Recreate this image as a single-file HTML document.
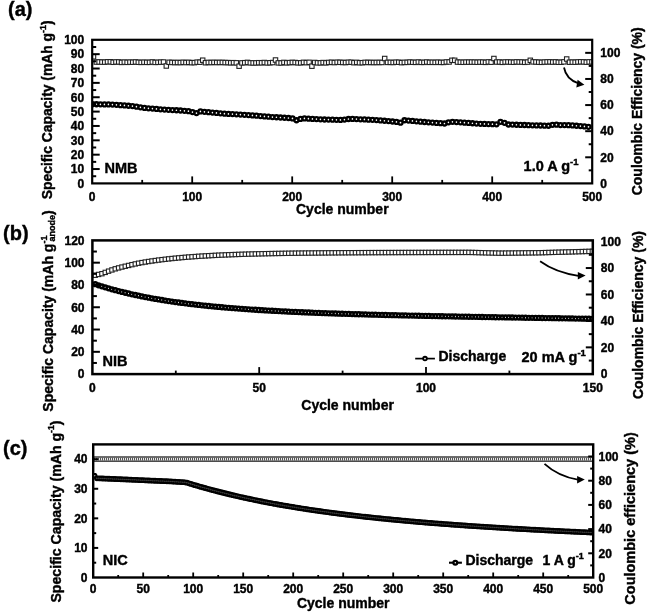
<!DOCTYPE html>
<html><head><meta charset="utf-8"><style>
html,body{margin:0;padding:0;background:#fff;}
svg{display:block;will-change:transform;filter:blur(0.35px);}
text{stroke:#000;stroke-width:0.4px;}
</style></head><body>
<svg width="649" height="615" viewBox="0 0 649 615" font-family='"Liberation Sans", sans-serif' font-weight="bold">
<rect width="649" height="615" fill="#fff"/>
<clipPath id="ca"><rect x="92.20" y="39.80" width="500.00" height="143.60"/></clipPath>
<g clip-path="url(#ca)">
<rect x="91.30" y="54.60" width="4.4" height="4.4" fill="#fff" stroke="#222" stroke-width="1.1"/>
<rect x="94.10" y="59.84" width="4.4" height="4.4" fill="#fff" stroke="#222" stroke-width="1.1"/>
<rect x="96.90" y="59.75" width="4.4" height="4.4" fill="#fff" stroke="#222" stroke-width="1.1"/>
<rect x="99.70" y="59.90" width="4.4" height="4.4" fill="#fff" stroke="#222" stroke-width="1.1"/>
<rect x="102.50" y="59.92" width="4.4" height="4.4" fill="#fff" stroke="#222" stroke-width="1.1"/>
<rect x="105.30" y="59.60" width="4.4" height="4.4" fill="#fff" stroke="#222" stroke-width="1.1"/>
<rect x="108.10" y="59.58" width="4.4" height="4.4" fill="#fff" stroke="#222" stroke-width="1.1"/>
<rect x="110.90" y="60.08" width="4.4" height="4.4" fill="#fff" stroke="#222" stroke-width="1.1"/>
<rect x="113.70" y="59.75" width="4.4" height="4.4" fill="#fff" stroke="#222" stroke-width="1.1"/>
<rect x="116.50" y="59.74" width="4.4" height="4.4" fill="#fff" stroke="#222" stroke-width="1.1"/>
<rect x="119.30" y="60.21" width="4.4" height="4.4" fill="#fff" stroke="#222" stroke-width="1.1"/>
<rect x="122.10" y="59.91" width="4.4" height="4.4" fill="#fff" stroke="#222" stroke-width="1.1"/>
<rect x="124.90" y="60.14" width="4.4" height="4.4" fill="#fff" stroke="#222" stroke-width="1.1"/>
<rect x="127.70" y="59.93" width="4.4" height="4.4" fill="#fff" stroke="#222" stroke-width="1.1"/>
<rect x="130.50" y="60.04" width="4.4" height="4.4" fill="#fff" stroke="#222" stroke-width="1.1"/>
<rect x="133.30" y="59.76" width="4.4" height="4.4" fill="#fff" stroke="#222" stroke-width="1.1"/>
<rect x="136.10" y="60.06" width="4.4" height="4.4" fill="#fff" stroke="#222" stroke-width="1.1"/>
<rect x="138.90" y="60.21" width="4.4" height="4.4" fill="#fff" stroke="#222" stroke-width="1.1"/>
<rect x="141.70" y="60.02" width="4.4" height="4.4" fill="#fff" stroke="#222" stroke-width="1.1"/>
<rect x="144.50" y="60.16" width="4.4" height="4.4" fill="#fff" stroke="#222" stroke-width="1.1"/>
<rect x="147.30" y="60.13" width="4.4" height="4.4" fill="#fff" stroke="#222" stroke-width="1.1"/>
<rect x="150.10" y="59.77" width="4.4" height="4.4" fill="#fff" stroke="#222" stroke-width="1.1"/>
<rect x="152.90" y="60.20" width="4.4" height="4.4" fill="#fff" stroke="#222" stroke-width="1.1"/>
<rect x="155.70" y="60.11" width="4.4" height="4.4" fill="#fff" stroke="#222" stroke-width="1.1"/>
<rect x="158.50" y="59.95" width="4.4" height="4.4" fill="#fff" stroke="#222" stroke-width="1.1"/>
<rect x="161.30" y="59.80" width="4.4" height="4.4" fill="#fff" stroke="#222" stroke-width="1.1"/>
<rect x="164.10" y="63.80" width="4.4" height="4.4" fill="#fff" stroke="#222" stroke-width="1.1"/>
<rect x="166.90" y="60.08" width="4.4" height="4.4" fill="#fff" stroke="#222" stroke-width="1.1"/>
<rect x="169.70" y="60.24" width="4.4" height="4.4" fill="#fff" stroke="#222" stroke-width="1.1"/>
<rect x="172.50" y="60.35" width="4.4" height="4.4" fill="#fff" stroke="#222" stroke-width="1.1"/>
<rect x="175.30" y="60.26" width="4.4" height="4.4" fill="#fff" stroke="#222" stroke-width="1.1"/>
<rect x="178.10" y="60.40" width="4.4" height="4.4" fill="#fff" stroke="#222" stroke-width="1.1"/>
<rect x="180.90" y="60.09" width="4.4" height="4.4" fill="#fff" stroke="#222" stroke-width="1.1"/>
<rect x="183.70" y="60.35" width="4.4" height="4.4" fill="#fff" stroke="#222" stroke-width="1.1"/>
<rect x="186.50" y="60.15" width="4.4" height="4.4" fill="#fff" stroke="#222" stroke-width="1.1"/>
<rect x="189.30" y="60.45" width="4.4" height="4.4" fill="#fff" stroke="#222" stroke-width="1.1"/>
<rect x="192.10" y="60.43" width="4.4" height="4.4" fill="#fff" stroke="#222" stroke-width="1.1"/>
<rect x="194.90" y="59.97" width="4.4" height="4.4" fill="#fff" stroke="#222" stroke-width="1.1"/>
<rect x="197.70" y="60.00" width="4.4" height="4.4" fill="#fff" stroke="#222" stroke-width="1.1"/>
<rect x="200.50" y="58.00" width="4.4" height="4.4" fill="#fff" stroke="#222" stroke-width="1.1"/>
<rect x="203.30" y="60.52" width="4.4" height="4.4" fill="#fff" stroke="#222" stroke-width="1.1"/>
<rect x="206.10" y="60.22" width="4.4" height="4.4" fill="#fff" stroke="#222" stroke-width="1.1"/>
<rect x="208.90" y="60.34" width="4.4" height="4.4" fill="#fff" stroke="#222" stroke-width="1.1"/>
<rect x="211.70" y="60.16" width="4.4" height="4.4" fill="#fff" stroke="#222" stroke-width="1.1"/>
<rect x="214.50" y="60.29" width="4.4" height="4.4" fill="#fff" stroke="#222" stroke-width="1.1"/>
<rect x="217.30" y="60.23" width="4.4" height="4.4" fill="#fff" stroke="#222" stroke-width="1.1"/>
<rect x="220.10" y="60.22" width="4.4" height="4.4" fill="#fff" stroke="#222" stroke-width="1.1"/>
<rect x="222.90" y="60.37" width="4.4" height="4.4" fill="#fff" stroke="#222" stroke-width="1.1"/>
<rect x="225.70" y="60.38" width="4.4" height="4.4" fill="#fff" stroke="#222" stroke-width="1.1"/>
<rect x="228.50" y="60.59" width="4.4" height="4.4" fill="#fff" stroke="#222" stroke-width="1.1"/>
<rect x="231.30" y="60.46" width="4.4" height="4.4" fill="#fff" stroke="#222" stroke-width="1.1"/>
<rect x="234.10" y="60.62" width="4.4" height="4.4" fill="#fff" stroke="#222" stroke-width="1.1"/>
<rect x="236.90" y="64.00" width="4.4" height="4.4" fill="#fff" stroke="#222" stroke-width="1.1"/>
<rect x="239.70" y="60.68" width="4.4" height="4.4" fill="#fff" stroke="#222" stroke-width="1.1"/>
<rect x="242.50" y="60.50" width="4.4" height="4.4" fill="#fff" stroke="#222" stroke-width="1.1"/>
<rect x="245.30" y="60.21" width="4.4" height="4.4" fill="#fff" stroke="#222" stroke-width="1.1"/>
<rect x="248.10" y="60.64" width="4.4" height="4.4" fill="#fff" stroke="#222" stroke-width="1.1"/>
<rect x="250.90" y="60.71" width="4.4" height="4.4" fill="#fff" stroke="#222" stroke-width="1.1"/>
<rect x="253.70" y="60.69" width="4.4" height="4.4" fill="#fff" stroke="#222" stroke-width="1.1"/>
<rect x="256.50" y="60.50" width="4.4" height="4.4" fill="#fff" stroke="#222" stroke-width="1.1"/>
<rect x="259.30" y="60.59" width="4.4" height="4.4" fill="#fff" stroke="#222" stroke-width="1.1"/>
<rect x="262.10" y="60.30" width="4.4" height="4.4" fill="#fff" stroke="#222" stroke-width="1.1"/>
<rect x="264.90" y="60.69" width="4.4" height="4.4" fill="#fff" stroke="#222" stroke-width="1.1"/>
<rect x="267.70" y="60.54" width="4.4" height="4.4" fill="#fff" stroke="#222" stroke-width="1.1"/>
<rect x="270.50" y="60.36" width="4.4" height="4.4" fill="#fff" stroke="#222" stroke-width="1.1"/>
<rect x="273.30" y="57.80" width="4.4" height="4.4" fill="#fff" stroke="#222" stroke-width="1.1"/>
<rect x="276.10" y="60.69" width="4.4" height="4.4" fill="#fff" stroke="#222" stroke-width="1.1"/>
<rect x="278.90" y="60.76" width="4.4" height="4.4" fill="#fff" stroke="#222" stroke-width="1.1"/>
<rect x="281.70" y="60.22" width="4.4" height="4.4" fill="#fff" stroke="#222" stroke-width="1.1"/>
<rect x="284.50" y="60.64" width="4.4" height="4.4" fill="#fff" stroke="#222" stroke-width="1.1"/>
<rect x="287.30" y="60.39" width="4.4" height="4.4" fill="#fff" stroke="#222" stroke-width="1.1"/>
<rect x="290.10" y="60.23" width="4.4" height="4.4" fill="#fff" stroke="#222" stroke-width="1.1"/>
<rect x="292.90" y="60.31" width="4.4" height="4.4" fill="#fff" stroke="#222" stroke-width="1.1"/>
<rect x="295.70" y="60.59" width="4.4" height="4.4" fill="#fff" stroke="#222" stroke-width="1.1"/>
<rect x="298.50" y="60.64" width="4.4" height="4.4" fill="#fff" stroke="#222" stroke-width="1.1"/>
<rect x="301.30" y="60.14" width="4.4" height="4.4" fill="#fff" stroke="#222" stroke-width="1.1"/>
<rect x="304.10" y="60.47" width="4.4" height="4.4" fill="#fff" stroke="#222" stroke-width="1.1"/>
<rect x="306.90" y="60.12" width="4.4" height="4.4" fill="#fff" stroke="#222" stroke-width="1.1"/>
<rect x="309.70" y="64.00" width="4.4" height="4.4" fill="#fff" stroke="#222" stroke-width="1.1"/>
<rect x="312.50" y="60.28" width="4.4" height="4.4" fill="#fff" stroke="#222" stroke-width="1.1"/>
<rect x="315.30" y="60.60" width="4.4" height="4.4" fill="#fff" stroke="#222" stroke-width="1.1"/>
<rect x="318.10" y="60.65" width="4.4" height="4.4" fill="#fff" stroke="#222" stroke-width="1.1"/>
<rect x="320.90" y="60.36" width="4.4" height="4.4" fill="#fff" stroke="#222" stroke-width="1.1"/>
<rect x="323.70" y="60.65" width="4.4" height="4.4" fill="#fff" stroke="#222" stroke-width="1.1"/>
<rect x="326.50" y="60.23" width="4.4" height="4.4" fill="#fff" stroke="#222" stroke-width="1.1"/>
<rect x="329.30" y="60.08" width="4.4" height="4.4" fill="#fff" stroke="#222" stroke-width="1.1"/>
<rect x="332.10" y="60.39" width="4.4" height="4.4" fill="#fff" stroke="#222" stroke-width="1.1"/>
<rect x="334.90" y="60.04" width="4.4" height="4.4" fill="#fff" stroke="#222" stroke-width="1.1"/>
<rect x="337.70" y="60.13" width="4.4" height="4.4" fill="#fff" stroke="#222" stroke-width="1.1"/>
<rect x="340.50" y="60.25" width="4.4" height="4.4" fill="#fff" stroke="#222" stroke-width="1.1"/>
<rect x="343.30" y="60.36" width="4.4" height="4.4" fill="#fff" stroke="#222" stroke-width="1.1"/>
<rect x="346.10" y="60.08" width="4.4" height="4.4" fill="#fff" stroke="#222" stroke-width="1.1"/>
<rect x="348.90" y="60.01" width="4.4" height="4.4" fill="#fff" stroke="#222" stroke-width="1.1"/>
<rect x="351.70" y="60.50" width="4.4" height="4.4" fill="#fff" stroke="#222" stroke-width="1.1"/>
<rect x="354.50" y="60.16" width="4.4" height="4.4" fill="#fff" stroke="#222" stroke-width="1.1"/>
<rect x="357.30" y="60.54" width="4.4" height="4.4" fill="#fff" stroke="#222" stroke-width="1.1"/>
<rect x="360.10" y="60.49" width="4.4" height="4.4" fill="#fff" stroke="#222" stroke-width="1.1"/>
<rect x="362.90" y="60.17" width="4.4" height="4.4" fill="#fff" stroke="#222" stroke-width="1.1"/>
<rect x="365.70" y="60.22" width="4.4" height="4.4" fill="#fff" stroke="#222" stroke-width="1.1"/>
<rect x="368.50" y="60.24" width="4.4" height="4.4" fill="#fff" stroke="#222" stroke-width="1.1"/>
<rect x="371.30" y="60.31" width="4.4" height="4.4" fill="#fff" stroke="#222" stroke-width="1.1"/>
<rect x="374.10" y="60.27" width="4.4" height="4.4" fill="#fff" stroke="#222" stroke-width="1.1"/>
<rect x="376.90" y="60.24" width="4.4" height="4.4" fill="#fff" stroke="#222" stroke-width="1.1"/>
<rect x="379.70" y="60.27" width="4.4" height="4.4" fill="#fff" stroke="#222" stroke-width="1.1"/>
<rect x="382.50" y="56.30" width="4.4" height="4.4" fill="#fff" stroke="#222" stroke-width="1.1"/>
<rect x="385.30" y="60.19" width="4.4" height="4.4" fill="#fff" stroke="#222" stroke-width="1.1"/>
<rect x="388.10" y="60.14" width="4.4" height="4.4" fill="#fff" stroke="#222" stroke-width="1.1"/>
<rect x="390.90" y="60.30" width="4.4" height="4.4" fill="#fff" stroke="#222" stroke-width="1.1"/>
<rect x="393.70" y="60.01" width="4.4" height="4.4" fill="#fff" stroke="#222" stroke-width="1.1"/>
<rect x="396.50" y="60.04" width="4.4" height="4.4" fill="#fff" stroke="#222" stroke-width="1.1"/>
<rect x="399.30" y="60.44" width="4.4" height="4.4" fill="#fff" stroke="#222" stroke-width="1.1"/>
<rect x="402.10" y="60.15" width="4.4" height="4.4" fill="#fff" stroke="#222" stroke-width="1.1"/>
<rect x="404.90" y="60.16" width="4.4" height="4.4" fill="#fff" stroke="#222" stroke-width="1.1"/>
<rect x="407.70" y="59.83" width="4.4" height="4.4" fill="#fff" stroke="#222" stroke-width="1.1"/>
<rect x="410.50" y="60.07" width="4.4" height="4.4" fill="#fff" stroke="#222" stroke-width="1.1"/>
<rect x="413.30" y="60.16" width="4.4" height="4.4" fill="#fff" stroke="#222" stroke-width="1.1"/>
<rect x="416.10" y="59.82" width="4.4" height="4.4" fill="#fff" stroke="#222" stroke-width="1.1"/>
<rect x="418.90" y="60.17" width="4.4" height="4.4" fill="#fff" stroke="#222" stroke-width="1.1"/>
<rect x="421.70" y="60.17" width="4.4" height="4.4" fill="#fff" stroke="#222" stroke-width="1.1"/>
<rect x="424.50" y="59.82" width="4.4" height="4.4" fill="#fff" stroke="#222" stroke-width="1.1"/>
<rect x="427.30" y="60.16" width="4.4" height="4.4" fill="#fff" stroke="#222" stroke-width="1.1"/>
<rect x="430.10" y="60.06" width="4.4" height="4.4" fill="#fff" stroke="#222" stroke-width="1.1"/>
<rect x="432.90" y="60.18" width="4.4" height="4.4" fill="#fff" stroke="#222" stroke-width="1.1"/>
<rect x="435.70" y="59.98" width="4.4" height="4.4" fill="#fff" stroke="#222" stroke-width="1.1"/>
<rect x="438.50" y="60.19" width="4.4" height="4.4" fill="#fff" stroke="#222" stroke-width="1.1"/>
<rect x="441.30" y="60.20" width="4.4" height="4.4" fill="#fff" stroke="#222" stroke-width="1.1"/>
<rect x="444.10" y="59.77" width="4.4" height="4.4" fill="#fff" stroke="#222" stroke-width="1.1"/>
<rect x="446.90" y="59.79" width="4.4" height="4.4" fill="#fff" stroke="#222" stroke-width="1.1"/>
<rect x="449.70" y="58.10" width="4.4" height="4.4" fill="#fff" stroke="#222" stroke-width="1.1"/>
<rect x="452.50" y="58.10" width="4.4" height="4.4" fill="#fff" stroke="#222" stroke-width="1.1"/>
<rect x="455.30" y="59.89" width="4.4" height="4.4" fill="#fff" stroke="#222" stroke-width="1.1"/>
<rect x="458.10" y="60.00" width="4.4" height="4.4" fill="#fff" stroke="#222" stroke-width="1.1"/>
<rect x="460.90" y="60.08" width="4.4" height="4.4" fill="#fff" stroke="#222" stroke-width="1.1"/>
<rect x="463.70" y="59.91" width="4.4" height="4.4" fill="#fff" stroke="#222" stroke-width="1.1"/>
<rect x="466.50" y="59.93" width="4.4" height="4.4" fill="#fff" stroke="#222" stroke-width="1.1"/>
<rect x="469.30" y="59.90" width="4.4" height="4.4" fill="#fff" stroke="#222" stroke-width="1.1"/>
<rect x="472.10" y="59.93" width="4.4" height="4.4" fill="#fff" stroke="#222" stroke-width="1.1"/>
<rect x="474.90" y="60.06" width="4.4" height="4.4" fill="#fff" stroke="#222" stroke-width="1.1"/>
<rect x="477.70" y="59.88" width="4.4" height="4.4" fill="#fff" stroke="#222" stroke-width="1.1"/>
<rect x="480.50" y="59.92" width="4.4" height="4.4" fill="#fff" stroke="#222" stroke-width="1.1"/>
<rect x="483.30" y="60.15" width="4.4" height="4.4" fill="#fff" stroke="#222" stroke-width="1.1"/>
<rect x="486.10" y="59.70" width="4.4" height="4.4" fill="#fff" stroke="#222" stroke-width="1.1"/>
<rect x="488.90" y="60.02" width="4.4" height="4.4" fill="#fff" stroke="#222" stroke-width="1.1"/>
<rect x="491.70" y="56.30" width="4.4" height="4.4" fill="#fff" stroke="#222" stroke-width="1.1"/>
<rect x="494.50" y="59.85" width="4.4" height="4.4" fill="#fff" stroke="#222" stroke-width="1.1"/>
<rect x="497.30" y="59.79" width="4.4" height="4.4" fill="#fff" stroke="#222" stroke-width="1.1"/>
<rect x="500.10" y="60.14" width="4.4" height="4.4" fill="#fff" stroke="#222" stroke-width="1.1"/>
<rect x="502.90" y="59.79" width="4.4" height="4.4" fill="#fff" stroke="#222" stroke-width="1.1"/>
<rect x="505.70" y="59.76" width="4.4" height="4.4" fill="#fff" stroke="#222" stroke-width="1.1"/>
<rect x="508.50" y="59.90" width="4.4" height="4.4" fill="#fff" stroke="#222" stroke-width="1.1"/>
<rect x="511.30" y="60.06" width="4.4" height="4.4" fill="#fff" stroke="#222" stroke-width="1.1"/>
<rect x="514.10" y="59.69" width="4.4" height="4.4" fill="#fff" stroke="#222" stroke-width="1.1"/>
<rect x="516.90" y="59.82" width="4.4" height="4.4" fill="#fff" stroke="#222" stroke-width="1.1"/>
<rect x="519.70" y="59.82" width="4.4" height="4.4" fill="#fff" stroke="#222" stroke-width="1.1"/>
<rect x="522.50" y="60.12" width="4.4" height="4.4" fill="#fff" stroke="#222" stroke-width="1.1"/>
<rect x="525.30" y="59.88" width="4.4" height="4.4" fill="#fff" stroke="#222" stroke-width="1.1"/>
<rect x="528.10" y="58.10" width="4.4" height="4.4" fill="#fff" stroke="#222" stroke-width="1.1"/>
<rect x="530.90" y="59.70" width="4.4" height="4.4" fill="#fff" stroke="#222" stroke-width="1.1"/>
<rect x="533.70" y="59.80" width="4.4" height="4.4" fill="#fff" stroke="#222" stroke-width="1.1"/>
<rect x="536.50" y="59.98" width="4.4" height="4.4" fill="#fff" stroke="#222" stroke-width="1.1"/>
<rect x="539.30" y="60.12" width="4.4" height="4.4" fill="#fff" stroke="#222" stroke-width="1.1"/>
<rect x="542.10" y="59.85" width="4.4" height="4.4" fill="#fff" stroke="#222" stroke-width="1.1"/>
<rect x="544.90" y="59.71" width="4.4" height="4.4" fill="#fff" stroke="#222" stroke-width="1.1"/>
<rect x="547.70" y="59.65" width="4.4" height="4.4" fill="#fff" stroke="#222" stroke-width="1.1"/>
<rect x="550.50" y="59.89" width="4.4" height="4.4" fill="#fff" stroke="#222" stroke-width="1.1"/>
<rect x="553.30" y="59.68" width="4.4" height="4.4" fill="#fff" stroke="#222" stroke-width="1.1"/>
<rect x="556.10" y="60.04" width="4.4" height="4.4" fill="#fff" stroke="#222" stroke-width="1.1"/>
<rect x="558.90" y="60.06" width="4.4" height="4.4" fill="#fff" stroke="#222" stroke-width="1.1"/>
<rect x="561.70" y="59.66" width="4.4" height="4.4" fill="#fff" stroke="#222" stroke-width="1.1"/>
<rect x="564.50" y="56.80" width="4.4" height="4.4" fill="#fff" stroke="#222" stroke-width="1.1"/>
<rect x="567.30" y="60.02" width="4.4" height="4.4" fill="#fff" stroke="#222" stroke-width="1.1"/>
<rect x="570.10" y="59.92" width="4.4" height="4.4" fill="#fff" stroke="#222" stroke-width="1.1"/>
<rect x="572.90" y="60.01" width="4.4" height="4.4" fill="#fff" stroke="#222" stroke-width="1.1"/>
<rect x="575.70" y="59.73" width="4.4" height="4.4" fill="#fff" stroke="#222" stroke-width="1.1"/>
<rect x="578.50" y="59.60" width="4.4" height="4.4" fill="#fff" stroke="#222" stroke-width="1.1"/>
<rect x="581.30" y="59.69" width="4.4" height="4.4" fill="#fff" stroke="#222" stroke-width="1.1"/>
<rect x="584.10" y="59.99" width="4.4" height="4.4" fill="#fff" stroke="#222" stroke-width="1.1"/>
<rect x="586.90" y="59.67" width="4.4" height="4.4" fill="#fff" stroke="#222" stroke-width="1.1"/>
<rect x="589.70" y="59.71" width="4.4" height="4.4" fill="#fff" stroke="#222" stroke-width="1.1"/>
<circle cx="92.50" cy="104.20" r="2.0" fill="#fff" stroke="#000" stroke-width="2.3"/>
<circle cx="96.50" cy="104.26" r="2.0" fill="#fff" stroke="#000" stroke-width="2.3"/>
<circle cx="100.50" cy="104.32" r="2.0" fill="#fff" stroke="#000" stroke-width="2.3"/>
<circle cx="104.50" cy="104.38" r="2.0" fill="#fff" stroke="#000" stroke-width="2.3"/>
<circle cx="108.50" cy="104.45" r="2.0" fill="#fff" stroke="#000" stroke-width="2.3"/>
<circle cx="112.50" cy="104.54" r="2.0" fill="#fff" stroke="#000" stroke-width="2.3"/>
<circle cx="116.50" cy="104.84" r="2.0" fill="#fff" stroke="#000" stroke-width="2.3"/>
<circle cx="120.50" cy="105.14" r="2.0" fill="#fff" stroke="#000" stroke-width="2.3"/>
<circle cx="124.50" cy="105.44" r="2.0" fill="#fff" stroke="#000" stroke-width="2.3"/>
<circle cx="128.50" cy="105.74" r="2.0" fill="#fff" stroke="#000" stroke-width="2.3"/>
<circle cx="132.50" cy="106.08" r="2.0" fill="#fff" stroke="#000" stroke-width="2.3"/>
<circle cx="136.50" cy="106.69" r="2.0" fill="#fff" stroke="#000" stroke-width="2.3"/>
<circle cx="140.50" cy="107.31" r="2.0" fill="#fff" stroke="#000" stroke-width="2.3"/>
<circle cx="144.50" cy="107.92" r="2.0" fill="#fff" stroke="#000" stroke-width="2.3"/>
<circle cx="148.50" cy="108.29" r="2.0" fill="#fff" stroke="#000" stroke-width="2.3"/>
<circle cx="152.50" cy="108.62" r="2.0" fill="#fff" stroke="#000" stroke-width="2.3"/>
<circle cx="156.50" cy="108.95" r="2.0" fill="#fff" stroke="#000" stroke-width="2.3"/>
<circle cx="160.50" cy="109.28" r="2.0" fill="#fff" stroke="#000" stroke-width="2.3"/>
<circle cx="164.50" cy="109.55" r="2.0" fill="#fff" stroke="#000" stroke-width="2.3"/>
<circle cx="168.50" cy="109.79" r="2.0" fill="#fff" stroke="#000" stroke-width="2.3"/>
<circle cx="172.50" cy="110.03" r="2.0" fill="#fff" stroke="#000" stroke-width="2.3"/>
<circle cx="176.50" cy="110.27" r="2.0" fill="#fff" stroke="#000" stroke-width="2.3"/>
<circle cx="180.50" cy="110.51" r="2.0" fill="#fff" stroke="#000" stroke-width="2.3"/>
<circle cx="184.50" cy="110.82" r="2.0" fill="#fff" stroke="#000" stroke-width="2.3"/>
<circle cx="188.50" cy="111.19" r="2.0" fill="#fff" stroke="#000" stroke-width="2.3"/>
<circle cx="192.50" cy="112.08" r="2.0" fill="#fff" stroke="#000" stroke-width="2.3"/>
<circle cx="196.50" cy="113.10" r="2.0" fill="#fff" stroke="#000" stroke-width="2.3"/>
<circle cx="200.50" cy="111.44" r="2.0" fill="#fff" stroke="#000" stroke-width="2.3"/>
<circle cx="204.50" cy="111.82" r="2.0" fill="#fff" stroke="#000" stroke-width="2.3"/>
<circle cx="208.50" cy="112.21" r="2.0" fill="#fff" stroke="#000" stroke-width="2.3"/>
<circle cx="212.50" cy="112.59" r="2.0" fill="#fff" stroke="#000" stroke-width="2.3"/>
<circle cx="216.50" cy="112.97" r="2.0" fill="#fff" stroke="#000" stroke-width="2.3"/>
<circle cx="220.50" cy="113.36" r="2.0" fill="#fff" stroke="#000" stroke-width="2.3"/>
<circle cx="224.50" cy="113.64" r="2.0" fill="#fff" stroke="#000" stroke-width="2.3"/>
<circle cx="228.50" cy="113.88" r="2.0" fill="#fff" stroke="#000" stroke-width="2.3"/>
<circle cx="232.50" cy="114.11" r="2.0" fill="#fff" stroke="#000" stroke-width="2.3"/>
<circle cx="236.50" cy="114.34" r="2.0" fill="#fff" stroke="#000" stroke-width="2.3"/>
<circle cx="240.50" cy="114.57" r="2.0" fill="#fff" stroke="#000" stroke-width="2.3"/>
<circle cx="244.50" cy="114.80" r="2.0" fill="#fff" stroke="#000" stroke-width="2.3"/>
<circle cx="248.50" cy="115.04" r="2.0" fill="#fff" stroke="#000" stroke-width="2.3"/>
<circle cx="252.50" cy="115.38" r="2.0" fill="#fff" stroke="#000" stroke-width="2.3"/>
<circle cx="256.50" cy="115.71" r="2.0" fill="#fff" stroke="#000" stroke-width="2.3"/>
<circle cx="260.50" cy="116.04" r="2.0" fill="#fff" stroke="#000" stroke-width="2.3"/>
<circle cx="264.50" cy="116.38" r="2.0" fill="#fff" stroke="#000" stroke-width="2.3"/>
<circle cx="268.50" cy="116.71" r="2.0" fill="#fff" stroke="#000" stroke-width="2.3"/>
<circle cx="272.50" cy="117.03" r="2.0" fill="#fff" stroke="#000" stroke-width="2.3"/>
<circle cx="276.50" cy="117.27" r="2.0" fill="#fff" stroke="#000" stroke-width="2.3"/>
<circle cx="280.50" cy="117.51" r="2.0" fill="#fff" stroke="#000" stroke-width="2.3"/>
<circle cx="284.50" cy="117.75" r="2.0" fill="#fff" stroke="#000" stroke-width="2.3"/>
<circle cx="288.50" cy="117.99" r="2.0" fill="#fff" stroke="#000" stroke-width="2.3"/>
<circle cx="292.50" cy="118.43" r="2.0" fill="#fff" stroke="#000" stroke-width="2.3"/>
<circle cx="296.50" cy="120.27" r="2.0" fill="#fff" stroke="#000" stroke-width="2.3"/>
<circle cx="300.50" cy="118.96" r="2.0" fill="#fff" stroke="#000" stroke-width="2.3"/>
<circle cx="304.50" cy="118.44" r="2.0" fill="#fff" stroke="#000" stroke-width="2.3"/>
<circle cx="308.50" cy="118.66" r="2.0" fill="#fff" stroke="#000" stroke-width="2.3"/>
<circle cx="312.50" cy="118.88" r="2.0" fill="#fff" stroke="#000" stroke-width="2.3"/>
<circle cx="316.50" cy="119.10" r="2.0" fill="#fff" stroke="#000" stroke-width="2.3"/>
<circle cx="320.50" cy="119.32" r="2.0" fill="#fff" stroke="#000" stroke-width="2.3"/>
<circle cx="324.50" cy="119.48" r="2.0" fill="#fff" stroke="#000" stroke-width="2.3"/>
<circle cx="328.50" cy="119.59" r="2.0" fill="#fff" stroke="#000" stroke-width="2.3"/>
<circle cx="332.50" cy="119.72" r="2.0" fill="#fff" stroke="#000" stroke-width="2.3"/>
<circle cx="336.50" cy="119.84" r="2.0" fill="#fff" stroke="#000" stroke-width="2.3"/>
<circle cx="340.50" cy="119.95" r="2.0" fill="#fff" stroke="#000" stroke-width="2.3"/>
<circle cx="344.50" cy="119.62" r="2.0" fill="#fff" stroke="#000" stroke-width="2.3"/>
<circle cx="348.50" cy="119.02" r="2.0" fill="#fff" stroke="#000" stroke-width="2.3"/>
<circle cx="352.50" cy="118.92" r="2.0" fill="#fff" stroke="#000" stroke-width="2.3"/>
<circle cx="356.50" cy="119.10" r="2.0" fill="#fff" stroke="#000" stroke-width="2.3"/>
<circle cx="360.50" cy="119.28" r="2.0" fill="#fff" stroke="#000" stroke-width="2.3"/>
<circle cx="364.50" cy="119.47" r="2.0" fill="#fff" stroke="#000" stroke-width="2.3"/>
<circle cx="368.50" cy="119.65" r="2.0" fill="#fff" stroke="#000" stroke-width="2.3"/>
<circle cx="372.50" cy="119.84" r="2.0" fill="#fff" stroke="#000" stroke-width="2.3"/>
<circle cx="376.50" cy="120.05" r="2.0" fill="#fff" stroke="#000" stroke-width="2.3"/>
<circle cx="380.50" cy="120.41" r="2.0" fill="#fff" stroke="#000" stroke-width="2.3"/>
<circle cx="384.50" cy="120.77" r="2.0" fill="#fff" stroke="#000" stroke-width="2.3"/>
<circle cx="388.50" cy="121.12" r="2.0" fill="#fff" stroke="#000" stroke-width="2.3"/>
<circle cx="392.50" cy="121.48" r="2.0" fill="#fff" stroke="#000" stroke-width="2.3"/>
<circle cx="396.50" cy="121.95" r="2.0" fill="#fff" stroke="#000" stroke-width="2.3"/>
<circle cx="400.50" cy="122.65" r="2.0" fill="#fff" stroke="#000" stroke-width="2.3"/>
<circle cx="404.50" cy="120.24" r="2.0" fill="#fff" stroke="#000" stroke-width="2.3"/>
<circle cx="408.50" cy="120.60" r="2.0" fill="#fff" stroke="#000" stroke-width="2.3"/>
<circle cx="412.50" cy="120.96" r="2.0" fill="#fff" stroke="#000" stroke-width="2.3"/>
<circle cx="416.50" cy="121.31" r="2.0" fill="#fff" stroke="#000" stroke-width="2.3"/>
<circle cx="420.50" cy="121.67" r="2.0" fill="#fff" stroke="#000" stroke-width="2.3"/>
<circle cx="424.50" cy="121.99" r="2.0" fill="#fff" stroke="#000" stroke-width="2.3"/>
<circle cx="428.50" cy="122.29" r="2.0" fill="#fff" stroke="#000" stroke-width="2.3"/>
<circle cx="432.50" cy="122.59" r="2.0" fill="#fff" stroke="#000" stroke-width="2.3"/>
<circle cx="436.50" cy="122.89" r="2.0" fill="#fff" stroke="#000" stroke-width="2.3"/>
<circle cx="440.50" cy="123.19" r="2.0" fill="#fff" stroke="#000" stroke-width="2.3"/>
<circle cx="444.50" cy="123.49" r="2.0" fill="#fff" stroke="#000" stroke-width="2.3"/>
<circle cx="448.50" cy="122.35" r="2.0" fill="#fff" stroke="#000" stroke-width="2.3"/>
<circle cx="452.50" cy="121.78" r="2.0" fill="#fff" stroke="#000" stroke-width="2.3"/>
<circle cx="456.50" cy="122.08" r="2.0" fill="#fff" stroke="#000" stroke-width="2.3"/>
<circle cx="460.50" cy="122.37" r="2.0" fill="#fff" stroke="#000" stroke-width="2.3"/>
<circle cx="464.50" cy="122.66" r="2.0" fill="#fff" stroke="#000" stroke-width="2.3"/>
<circle cx="468.50" cy="122.96" r="2.0" fill="#fff" stroke="#000" stroke-width="2.3"/>
<circle cx="472.50" cy="123.25" r="2.0" fill="#fff" stroke="#000" stroke-width="2.3"/>
<circle cx="476.50" cy="123.54" r="2.0" fill="#fff" stroke="#000" stroke-width="2.3"/>
<circle cx="480.50" cy="123.82" r="2.0" fill="#fff" stroke="#000" stroke-width="2.3"/>
<circle cx="484.50" cy="123.95" r="2.0" fill="#fff" stroke="#000" stroke-width="2.3"/>
<circle cx="488.50" cy="124.08" r="2.0" fill="#fff" stroke="#000" stroke-width="2.3"/>
<circle cx="492.50" cy="124.22" r="2.0" fill="#fff" stroke="#000" stroke-width="2.3"/>
<circle cx="496.50" cy="124.35" r="2.0" fill="#fff" stroke="#000" stroke-width="2.3"/>
<circle cx="500.50" cy="121.78" r="2.0" fill="#fff" stroke="#000" stroke-width="2.3"/>
<circle cx="504.50" cy="122.83" r="2.0" fill="#fff" stroke="#000" stroke-width="2.3"/>
<circle cx="508.50" cy="124.48" r="2.0" fill="#fff" stroke="#000" stroke-width="2.3"/>
<circle cx="512.50" cy="124.62" r="2.0" fill="#fff" stroke="#000" stroke-width="2.3"/>
<circle cx="516.50" cy="124.75" r="2.0" fill="#fff" stroke="#000" stroke-width="2.3"/>
<circle cx="520.50" cy="124.88" r="2.0" fill="#fff" stroke="#000" stroke-width="2.3"/>
<circle cx="524.50" cy="125.02" r="2.0" fill="#fff" stroke="#000" stroke-width="2.3"/>
<circle cx="528.50" cy="125.15" r="2.0" fill="#fff" stroke="#000" stroke-width="2.3"/>
<circle cx="532.50" cy="125.28" r="2.0" fill="#fff" stroke="#000" stroke-width="2.3"/>
<circle cx="536.50" cy="125.39" r="2.0" fill="#fff" stroke="#000" stroke-width="2.3"/>
<circle cx="540.50" cy="125.52" r="2.0" fill="#fff" stroke="#000" stroke-width="2.3"/>
<circle cx="544.50" cy="125.64" r="2.0" fill="#fff" stroke="#000" stroke-width="2.3"/>
<circle cx="548.50" cy="125.75" r="2.0" fill="#fff" stroke="#000" stroke-width="2.3"/>
<circle cx="552.50" cy="124.80" r="2.0" fill="#fff" stroke="#000" stroke-width="2.3"/>
<circle cx="556.50" cy="124.70" r="2.0" fill="#fff" stroke="#000" stroke-width="2.3"/>
<circle cx="560.50" cy="125.04" r="2.0" fill="#fff" stroke="#000" stroke-width="2.3"/>
<circle cx="564.50" cy="125.11" r="2.0" fill="#fff" stroke="#000" stroke-width="2.3"/>
<circle cx="568.50" cy="125.17" r="2.0" fill="#fff" stroke="#000" stroke-width="2.3"/>
<circle cx="572.50" cy="125.42" r="2.0" fill="#fff" stroke="#000" stroke-width="2.3"/>
<circle cx="576.50" cy="125.77" r="2.0" fill="#fff" stroke="#000" stroke-width="2.3"/>
<circle cx="580.50" cy="126.12" r="2.0" fill="#fff" stroke="#000" stroke-width="2.3"/>
<circle cx="584.50" cy="126.47" r="2.0" fill="#fff" stroke="#000" stroke-width="2.3"/>
<circle cx="588.50" cy="126.85" r="2.0" fill="#fff" stroke="#000" stroke-width="2.3"/>
</g>
<rect x="92.20" y="39.80" width="500.00" height="143.60" fill="none" stroke="#000" stroke-width="2.2"/>
<text x="84.20" y="187.70" font-size="12" text-anchor="end">0</text>
<line x1="92.20" y1="169.04" x2="99.70" y2="169.04" stroke="#000" stroke-width="2"/>
<text x="84.20" y="173.34" font-size="12" text-anchor="end">10</text>
<line x1="92.20" y1="154.68" x2="99.70" y2="154.68" stroke="#000" stroke-width="2"/>
<text x="84.20" y="158.98" font-size="12" text-anchor="end">20</text>
<line x1="92.20" y1="140.32" x2="99.70" y2="140.32" stroke="#000" stroke-width="2"/>
<text x="84.20" y="144.62" font-size="12" text-anchor="end">30</text>
<line x1="92.20" y1="125.96" x2="99.70" y2="125.96" stroke="#000" stroke-width="2"/>
<text x="84.20" y="130.26" font-size="12" text-anchor="end">40</text>
<line x1="92.20" y1="111.60" x2="99.70" y2="111.60" stroke="#000" stroke-width="2"/>
<text x="84.20" y="115.90" font-size="12" text-anchor="end">50</text>
<line x1="92.20" y1="97.24" x2="99.70" y2="97.24" stroke="#000" stroke-width="2"/>
<text x="84.20" y="101.54" font-size="12" text-anchor="end">60</text>
<line x1="92.20" y1="82.88" x2="99.70" y2="82.88" stroke="#000" stroke-width="2"/>
<text x="84.20" y="87.18" font-size="12" text-anchor="end">70</text>
<line x1="92.20" y1="68.52" x2="99.70" y2="68.52" stroke="#000" stroke-width="2"/>
<text x="84.20" y="72.82" font-size="12" text-anchor="end">80</text>
<line x1="92.20" y1="54.16" x2="99.70" y2="54.16" stroke="#000" stroke-width="2"/>
<text x="84.20" y="58.46" font-size="12" text-anchor="end">90</text>
<text x="84.20" y="44.10" font-size="12" text-anchor="end">100</text>
<line x1="92.20" y1="176.22" x2="96.20" y2="176.22" stroke="#000" stroke-width="2"/>
<line x1="92.20" y1="161.86" x2="96.20" y2="161.86" stroke="#000" stroke-width="2"/>
<line x1="92.20" y1="147.50" x2="96.20" y2="147.50" stroke="#000" stroke-width="2"/>
<line x1="92.20" y1="133.14" x2="96.20" y2="133.14" stroke="#000" stroke-width="2"/>
<line x1="92.20" y1="118.78" x2="96.20" y2="118.78" stroke="#000" stroke-width="2"/>
<line x1="92.20" y1="104.42" x2="96.20" y2="104.42" stroke="#000" stroke-width="2"/>
<line x1="92.20" y1="90.06" x2="96.20" y2="90.06" stroke="#000" stroke-width="2"/>
<line x1="92.20" y1="75.70" x2="96.20" y2="75.70" stroke="#000" stroke-width="2"/>
<line x1="92.20" y1="61.34" x2="96.20" y2="61.34" stroke="#000" stroke-width="2"/>
<line x1="92.20" y1="46.98" x2="96.20" y2="46.98" stroke="#000" stroke-width="2"/>
<text x="600.30" y="187.70" font-size="12">0</text>
<line x1="592.20" y1="157.29" x2="585.20" y2="157.29" stroke="#000" stroke-width="2"/>
<text x="600.30" y="161.59" font-size="12">20</text>
<line x1="592.20" y1="131.18" x2="585.20" y2="131.18" stroke="#000" stroke-width="2"/>
<text x="600.30" y="135.48" font-size="12">40</text>
<line x1="592.20" y1="105.07" x2="585.20" y2="105.07" stroke="#000" stroke-width="2"/>
<text x="600.30" y="109.37" font-size="12">60</text>
<line x1="592.20" y1="78.96" x2="585.20" y2="78.96" stroke="#000" stroke-width="2"/>
<text x="600.30" y="83.26" font-size="12">80</text>
<line x1="592.20" y1="52.85" x2="585.20" y2="52.85" stroke="#000" stroke-width="2"/>
<text x="600.30" y="57.15" font-size="12">100</text>
<line x1="592.20" y1="170.35" x2="588.70" y2="170.35" stroke="#000" stroke-width="2"/>
<line x1="592.20" y1="144.24" x2="588.70" y2="144.24" stroke="#000" stroke-width="2"/>
<line x1="592.20" y1="118.13" x2="588.70" y2="118.13" stroke="#000" stroke-width="2"/>
<line x1="592.20" y1="92.02" x2="588.70" y2="92.02" stroke="#000" stroke-width="2"/>
<line x1="592.20" y1="65.91" x2="588.70" y2="65.91" stroke="#000" stroke-width="2"/>
<text x="92.20" y="200.90" font-size="12" text-anchor="middle">0</text>
<line x1="192.20" y1="183.40" x2="192.20" y2="176.40" stroke="#000" stroke-width="1.8"/>
<text x="192.20" y="200.90" font-size="12" text-anchor="middle">100</text>
<line x1="292.20" y1="183.40" x2="292.20" y2="176.40" stroke="#000" stroke-width="1.8"/>
<text x="292.20" y="200.90" font-size="12" text-anchor="middle">200</text>
<line x1="392.20" y1="183.40" x2="392.20" y2="176.40" stroke="#000" stroke-width="1.8"/>
<text x="392.20" y="200.90" font-size="12" text-anchor="middle">300</text>
<line x1="492.20" y1="183.40" x2="492.20" y2="176.40" stroke="#000" stroke-width="1.8"/>
<text x="492.20" y="200.90" font-size="12" text-anchor="middle">400</text>
<text x="592.20" y="200.90" font-size="12" text-anchor="middle">500</text>
<line x1="142.20" y1="183.40" x2="142.20" y2="179.90" stroke="#000" stroke-width="1.8"/>
<line x1="242.20" y1="183.40" x2="242.20" y2="179.90" stroke="#000" stroke-width="1.8"/>
<line x1="342.20" y1="183.40" x2="342.20" y2="179.90" stroke="#000" stroke-width="1.8"/>
<line x1="442.20" y1="183.40" x2="442.20" y2="179.90" stroke="#000" stroke-width="1.8"/>
<line x1="542.20" y1="183.40" x2="542.20" y2="179.90" stroke="#000" stroke-width="1.8"/>
<text x="342.30" y="213.70" font-size="14" text-anchor="middle">Cycle number</text>
<text x="104.50" y="173.00" font-size="14.5">NMB</text>
<text x="523.60" y="170.50" font-size="14.5">1.0 A g<tspan font-size="9.5" dy="-5.5">-1</tspan></text>
<text x="8.00" y="16.20" font-size="20">(a)</text>
<path d="M564 67.5 C 565.5 76, 570 80.5, 578.5 83.4" fill="none" stroke="#000" stroke-width="1.8"/>
<polygon points="577.6,79.8 584.4,84.7 576.3,87.4" fill="#000"/>
<text transform="translate(51.8,109.8) rotate(-90)" font-size="13.85" text-anchor="middle">Specific Capacity (mAh g<tspan font-size="9" dy="-6">-1</tspan><tspan dy="6">)</tspan></text>
<text transform="translate(641.5,111.3) rotate(-90)" font-size="14" text-anchor="middle">Coulombic Efficiency (%)</text>
<clipPath id="cb"><rect x="92.40" y="240.40" width="500.40" height="133.70"/></clipPath>
<g clip-path="url(#cb)">
<rect x="93.09" y="273.11" width="4.3" height="4.3" fill="#fff" stroke="#222" stroke-width="1.1"/>
<rect x="96.42" y="272.30" width="4.3" height="4.3" fill="#fff" stroke="#222" stroke-width="1.1"/>
<rect x="99.76" y="271.55" width="4.3" height="4.3" fill="#fff" stroke="#222" stroke-width="1.1"/>
<rect x="103.09" y="270.25" width="4.3" height="4.3" fill="#fff" stroke="#222" stroke-width="1.1"/>
<rect x="106.43" y="269.00" width="4.3" height="4.3" fill="#fff" stroke="#222" stroke-width="1.1"/>
<rect x="109.77" y="267.80" width="4.3" height="4.3" fill="#fff" stroke="#222" stroke-width="1.1"/>
<rect x="113.10" y="266.67" width="4.3" height="4.3" fill="#fff" stroke="#222" stroke-width="1.1"/>
<rect x="116.44" y="265.76" width="4.3" height="4.3" fill="#fff" stroke="#222" stroke-width="1.1"/>
<rect x="119.77" y="264.90" width="4.3" height="4.3" fill="#fff" stroke="#222" stroke-width="1.1"/>
<rect x="123.11" y="264.09" width="4.3" height="4.3" fill="#fff" stroke="#222" stroke-width="1.1"/>
<rect x="126.45" y="263.31" width="4.3" height="4.3" fill="#fff" stroke="#222" stroke-width="1.1"/>
<rect x="129.78" y="262.52" width="4.3" height="4.3" fill="#fff" stroke="#222" stroke-width="1.1"/>
<rect x="133.12" y="261.77" width="4.3" height="4.3" fill="#fff" stroke="#222" stroke-width="1.1"/>
<rect x="136.45" y="261.06" width="4.3" height="4.3" fill="#fff" stroke="#222" stroke-width="1.1"/>
<rect x="139.79" y="260.44" width="4.3" height="4.3" fill="#fff" stroke="#222" stroke-width="1.1"/>
<rect x="143.13" y="259.88" width="4.3" height="4.3" fill="#fff" stroke="#222" stroke-width="1.1"/>
<rect x="146.46" y="259.35" width="4.3" height="4.3" fill="#fff" stroke="#222" stroke-width="1.1"/>
<rect x="149.80" y="258.85" width="4.3" height="4.3" fill="#fff" stroke="#222" stroke-width="1.1"/>
<rect x="153.13" y="258.38" width="4.3" height="4.3" fill="#fff" stroke="#222" stroke-width="1.1"/>
<rect x="156.47" y="257.93" width="4.3" height="4.3" fill="#fff" stroke="#222" stroke-width="1.1"/>
<rect x="159.81" y="257.51" width="4.3" height="4.3" fill="#fff" stroke="#222" stroke-width="1.1"/>
<rect x="163.14" y="257.11" width="4.3" height="4.3" fill="#fff" stroke="#222" stroke-width="1.1"/>
<rect x="166.48" y="256.74" width="4.3" height="4.3" fill="#fff" stroke="#222" stroke-width="1.1"/>
<rect x="169.81" y="256.38" width="4.3" height="4.3" fill="#fff" stroke="#222" stroke-width="1.1"/>
<rect x="173.15" y="256.05" width="4.3" height="4.3" fill="#fff" stroke="#222" stroke-width="1.1"/>
<rect x="176.49" y="255.73" width="4.3" height="4.3" fill="#fff" stroke="#222" stroke-width="1.1"/>
<rect x="179.82" y="255.43" width="4.3" height="4.3" fill="#fff" stroke="#222" stroke-width="1.1"/>
<rect x="183.16" y="255.15" width="4.3" height="4.3" fill="#fff" stroke="#222" stroke-width="1.1"/>
<rect x="186.49" y="254.88" width="4.3" height="4.3" fill="#fff" stroke="#222" stroke-width="1.1"/>
<rect x="189.83" y="254.63" width="4.3" height="4.3" fill="#fff" stroke="#222" stroke-width="1.1"/>
<rect x="193.17" y="254.39" width="4.3" height="4.3" fill="#fff" stroke="#222" stroke-width="1.1"/>
<rect x="196.50" y="254.16" width="4.3" height="4.3" fill="#fff" stroke="#222" stroke-width="1.1"/>
<rect x="199.84" y="253.95" width="4.3" height="4.3" fill="#fff" stroke="#222" stroke-width="1.1"/>
<rect x="203.17" y="253.75" width="4.3" height="4.3" fill="#fff" stroke="#222" stroke-width="1.1"/>
<rect x="206.51" y="253.56" width="4.3" height="4.3" fill="#fff" stroke="#222" stroke-width="1.1"/>
<rect x="209.85" y="253.38" width="4.3" height="4.3" fill="#fff" stroke="#222" stroke-width="1.1"/>
<rect x="213.18" y="253.21" width="4.3" height="4.3" fill="#fff" stroke="#222" stroke-width="1.1"/>
<rect x="216.52" y="253.05" width="4.3" height="4.3" fill="#fff" stroke="#222" stroke-width="1.1"/>
<rect x="219.85" y="252.90" width="4.3" height="4.3" fill="#fff" stroke="#222" stroke-width="1.1"/>
<rect x="223.19" y="252.75" width="4.3" height="4.3" fill="#fff" stroke="#222" stroke-width="1.1"/>
<rect x="226.53" y="252.62" width="4.3" height="4.3" fill="#fff" stroke="#222" stroke-width="1.1"/>
<rect x="229.86" y="252.49" width="4.3" height="4.3" fill="#fff" stroke="#222" stroke-width="1.1"/>
<rect x="233.20" y="252.37" width="4.3" height="4.3" fill="#fff" stroke="#222" stroke-width="1.1"/>
<rect x="236.53" y="252.26" width="4.3" height="4.3" fill="#fff" stroke="#222" stroke-width="1.1"/>
<rect x="239.87" y="252.15" width="4.3" height="4.3" fill="#fff" stroke="#222" stroke-width="1.1"/>
<rect x="243.21" y="252.05" width="4.3" height="4.3" fill="#fff" stroke="#222" stroke-width="1.1"/>
<rect x="246.54" y="251.95" width="4.3" height="4.3" fill="#fff" stroke="#222" stroke-width="1.1"/>
<rect x="249.88" y="251.86" width="4.3" height="4.3" fill="#fff" stroke="#222" stroke-width="1.1"/>
<rect x="253.21" y="251.77" width="4.3" height="4.3" fill="#fff" stroke="#222" stroke-width="1.1"/>
<rect x="256.55" y="251.69" width="4.3" height="4.3" fill="#fff" stroke="#222" stroke-width="1.1"/>
<rect x="259.89" y="251.61" width="4.3" height="4.3" fill="#fff" stroke="#222" stroke-width="1.1"/>
<rect x="263.22" y="251.54" width="4.3" height="4.3" fill="#fff" stroke="#222" stroke-width="1.1"/>
<rect x="266.56" y="251.47" width="4.3" height="4.3" fill="#fff" stroke="#222" stroke-width="1.1"/>
<rect x="269.89" y="251.41" width="4.3" height="4.3" fill="#fff" stroke="#222" stroke-width="1.1"/>
<rect x="273.23" y="251.34" width="4.3" height="4.3" fill="#fff" stroke="#222" stroke-width="1.1"/>
<rect x="276.57" y="251.29" width="4.3" height="4.3" fill="#fff" stroke="#222" stroke-width="1.1"/>
<rect x="279.90" y="251.23" width="4.3" height="4.3" fill="#fff" stroke="#222" stroke-width="1.1"/>
<rect x="283.24" y="251.18" width="4.3" height="4.3" fill="#fff" stroke="#222" stroke-width="1.1"/>
<rect x="286.57" y="251.13" width="4.3" height="4.3" fill="#fff" stroke="#222" stroke-width="1.1"/>
<rect x="289.91" y="251.08" width="4.3" height="4.3" fill="#fff" stroke="#222" stroke-width="1.1"/>
<rect x="293.25" y="251.04" width="4.3" height="4.3" fill="#fff" stroke="#222" stroke-width="1.1"/>
<rect x="296.58" y="250.99" width="4.3" height="4.3" fill="#fff" stroke="#222" stroke-width="1.1"/>
<rect x="299.92" y="250.95" width="4.3" height="4.3" fill="#fff" stroke="#222" stroke-width="1.1"/>
<rect x="303.25" y="250.92" width="4.3" height="4.3" fill="#fff" stroke="#222" stroke-width="1.1"/>
<rect x="306.59" y="250.88" width="4.3" height="4.3" fill="#fff" stroke="#222" stroke-width="1.1"/>
<rect x="309.93" y="250.85" width="4.3" height="4.3" fill="#fff" stroke="#222" stroke-width="1.1"/>
<rect x="313.26" y="250.82" width="4.3" height="4.3" fill="#fff" stroke="#222" stroke-width="1.1"/>
<rect x="316.60" y="250.79" width="4.3" height="4.3" fill="#fff" stroke="#222" stroke-width="1.1"/>
<rect x="319.93" y="250.76" width="4.3" height="4.3" fill="#fff" stroke="#222" stroke-width="1.1"/>
<rect x="323.27" y="250.73" width="4.3" height="4.3" fill="#fff" stroke="#222" stroke-width="1.1"/>
<rect x="326.61" y="250.70" width="4.3" height="4.3" fill="#fff" stroke="#222" stroke-width="1.1"/>
<rect x="329.94" y="250.68" width="4.3" height="4.3" fill="#fff" stroke="#222" stroke-width="1.1"/>
<rect x="333.28" y="250.66" width="4.3" height="4.3" fill="#fff" stroke="#222" stroke-width="1.1"/>
<rect x="336.61" y="250.63" width="4.3" height="4.3" fill="#fff" stroke="#222" stroke-width="1.1"/>
<rect x="339.95" y="250.61" width="4.3" height="4.3" fill="#fff" stroke="#222" stroke-width="1.1"/>
<rect x="343.29" y="250.59" width="4.3" height="4.3" fill="#fff" stroke="#222" stroke-width="1.1"/>
<rect x="346.62" y="250.57" width="4.3" height="4.3" fill="#fff" stroke="#222" stroke-width="1.1"/>
<rect x="349.96" y="250.56" width="4.3" height="4.3" fill="#fff" stroke="#222" stroke-width="1.1"/>
<rect x="353.29" y="250.54" width="4.3" height="4.3" fill="#fff" stroke="#222" stroke-width="1.1"/>
<rect x="356.63" y="250.52" width="4.3" height="4.3" fill="#fff" stroke="#222" stroke-width="1.1"/>
<rect x="359.97" y="250.51" width="4.3" height="4.3" fill="#fff" stroke="#222" stroke-width="1.1"/>
<rect x="363.30" y="250.49" width="4.3" height="4.3" fill="#fff" stroke="#222" stroke-width="1.1"/>
<rect x="366.64" y="250.48" width="4.3" height="4.3" fill="#fff" stroke="#222" stroke-width="1.1"/>
<rect x="369.97" y="250.46" width="4.3" height="4.3" fill="#fff" stroke="#222" stroke-width="1.1"/>
<rect x="373.31" y="250.45" width="4.3" height="4.3" fill="#fff" stroke="#222" stroke-width="1.1"/>
<rect x="376.65" y="250.44" width="4.3" height="4.3" fill="#fff" stroke="#222" stroke-width="1.1"/>
<rect x="379.98" y="250.43" width="4.3" height="4.3" fill="#fff" stroke="#222" stroke-width="1.1"/>
<rect x="383.32" y="250.42" width="4.3" height="4.3" fill="#fff" stroke="#222" stroke-width="1.1"/>
<rect x="386.65" y="250.41" width="4.3" height="4.3" fill="#fff" stroke="#222" stroke-width="1.1"/>
<rect x="389.99" y="250.40" width="4.3" height="4.3" fill="#fff" stroke="#222" stroke-width="1.1"/>
<rect x="393.33" y="250.39" width="4.3" height="4.3" fill="#fff" stroke="#222" stroke-width="1.1"/>
<rect x="396.66" y="250.38" width="4.3" height="4.3" fill="#fff" stroke="#222" stroke-width="1.1"/>
<rect x="400.00" y="250.37" width="4.3" height="4.3" fill="#fff" stroke="#222" stroke-width="1.1"/>
<rect x="403.33" y="250.36" width="4.3" height="4.3" fill="#fff" stroke="#222" stroke-width="1.1"/>
<rect x="406.67" y="250.35" width="4.3" height="4.3" fill="#fff" stroke="#222" stroke-width="1.1"/>
<rect x="410.01" y="250.35" width="4.3" height="4.3" fill="#fff" stroke="#222" stroke-width="1.1"/>
<rect x="413.34" y="250.34" width="4.3" height="4.3" fill="#fff" stroke="#222" stroke-width="1.1"/>
<rect x="416.68" y="250.33" width="4.3" height="4.3" fill="#fff" stroke="#222" stroke-width="1.1"/>
<rect x="420.01" y="250.33" width="4.3" height="4.3" fill="#fff" stroke="#222" stroke-width="1.1"/>
<rect x="423.35" y="250.32" width="4.3" height="4.3" fill="#fff" stroke="#222" stroke-width="1.1"/>
<rect x="426.69" y="250.31" width="4.3" height="4.3" fill="#fff" stroke="#222" stroke-width="1.1"/>
<rect x="430.02" y="250.31" width="4.3" height="4.3" fill="#fff" stroke="#222" stroke-width="1.1"/>
<rect x="433.36" y="250.30" width="4.3" height="4.3" fill="#fff" stroke="#222" stroke-width="1.1"/>
<rect x="436.69" y="250.30" width="4.3" height="4.3" fill="#fff" stroke="#222" stroke-width="1.1"/>
<rect x="440.03" y="250.29" width="4.3" height="4.3" fill="#fff" stroke="#222" stroke-width="1.1"/>
<rect x="443.37" y="250.28" width="4.3" height="4.3" fill="#fff" stroke="#222" stroke-width="1.1"/>
<rect x="446.70" y="250.28" width="4.3" height="4.3" fill="#fff" stroke="#222" stroke-width="1.1"/>
<rect x="450.04" y="250.28" width="4.3" height="4.3" fill="#fff" stroke="#222" stroke-width="1.1"/>
<rect x="453.37" y="250.27" width="4.3" height="4.3" fill="#fff" stroke="#222" stroke-width="1.1"/>
<rect x="456.71" y="250.27" width="4.3" height="4.3" fill="#fff" stroke="#222" stroke-width="1.1"/>
<rect x="460.05" y="250.26" width="4.3" height="4.3" fill="#fff" stroke="#222" stroke-width="1.1"/>
<rect x="463.38" y="250.26" width="4.3" height="4.3" fill="#fff" stroke="#222" stroke-width="1.1"/>
<rect x="466.72" y="250.25" width="4.3" height="4.3" fill="#fff" stroke="#222" stroke-width="1.1"/>
<rect x="470.05" y="250.31" width="4.3" height="4.3" fill="#fff" stroke="#222" stroke-width="1.1"/>
<rect x="473.39" y="250.39" width="4.3" height="4.3" fill="#fff" stroke="#222" stroke-width="1.1"/>
<rect x="476.73" y="250.48" width="4.3" height="4.3" fill="#fff" stroke="#222" stroke-width="1.1"/>
<rect x="480.06" y="250.56" width="4.3" height="4.3" fill="#fff" stroke="#222" stroke-width="1.1"/>
<rect x="483.40" y="250.65" width="4.3" height="4.3" fill="#fff" stroke="#222" stroke-width="1.1"/>
<rect x="486.73" y="250.74" width="4.3" height="4.3" fill="#fff" stroke="#222" stroke-width="1.1"/>
<rect x="490.07" y="250.82" width="4.3" height="4.3" fill="#fff" stroke="#222" stroke-width="1.1"/>
<rect x="493.41" y="250.91" width="4.3" height="4.3" fill="#fff" stroke="#222" stroke-width="1.1"/>
<rect x="496.74" y="250.99" width="4.3" height="4.3" fill="#fff" stroke="#222" stroke-width="1.1"/>
<rect x="500.08" y="251.00" width="4.3" height="4.3" fill="#fff" stroke="#222" stroke-width="1.1"/>
<rect x="503.41" y="250.96" width="4.3" height="4.3" fill="#fff" stroke="#222" stroke-width="1.1"/>
<rect x="506.75" y="250.92" width="4.3" height="4.3" fill="#fff" stroke="#222" stroke-width="1.1"/>
<rect x="510.09" y="250.89" width="4.3" height="4.3" fill="#fff" stroke="#222" stroke-width="1.1"/>
<rect x="513.42" y="250.85" width="4.3" height="4.3" fill="#fff" stroke="#222" stroke-width="1.1"/>
<rect x="516.76" y="250.82" width="4.3" height="4.3" fill="#fff" stroke="#222" stroke-width="1.1"/>
<rect x="520.09" y="250.78" width="4.3" height="4.3" fill="#fff" stroke="#222" stroke-width="1.1"/>
<rect x="523.43" y="250.74" width="4.3" height="4.3" fill="#fff" stroke="#222" stroke-width="1.1"/>
<rect x="526.77" y="250.71" width="4.3" height="4.3" fill="#fff" stroke="#222" stroke-width="1.1"/>
<rect x="530.10" y="250.67" width="4.3" height="4.3" fill="#fff" stroke="#222" stroke-width="1.1"/>
<rect x="533.44" y="250.64" width="4.3" height="4.3" fill="#fff" stroke="#222" stroke-width="1.1"/>
<rect x="536.77" y="250.60" width="4.3" height="4.3" fill="#fff" stroke="#222" stroke-width="1.1"/>
<rect x="540.11" y="250.53" width="4.3" height="4.3" fill="#fff" stroke="#222" stroke-width="1.1"/>
<rect x="543.45" y="250.43" width="4.3" height="4.3" fill="#fff" stroke="#222" stroke-width="1.1"/>
<rect x="546.78" y="250.34" width="4.3" height="4.3" fill="#fff" stroke="#222" stroke-width="1.1"/>
<rect x="550.12" y="250.25" width="4.3" height="4.3" fill="#fff" stroke="#222" stroke-width="1.1"/>
<rect x="553.45" y="250.16" width="4.3" height="4.3" fill="#fff" stroke="#222" stroke-width="1.1"/>
<rect x="556.79" y="250.06" width="4.3" height="4.3" fill="#fff" stroke="#222" stroke-width="1.1"/>
<rect x="560.13" y="249.97" width="4.3" height="4.3" fill="#fff" stroke="#222" stroke-width="1.1"/>
<rect x="563.46" y="249.88" width="4.3" height="4.3" fill="#fff" stroke="#222" stroke-width="1.1"/>
<rect x="566.80" y="249.79" width="4.3" height="4.3" fill="#fff" stroke="#222" stroke-width="1.1"/>
<rect x="570.13" y="249.70" width="4.3" height="4.3" fill="#fff" stroke="#222" stroke-width="1.1"/>
<rect x="573.47" y="249.60" width="4.3" height="4.3" fill="#fff" stroke="#222" stroke-width="1.1"/>
<rect x="576.81" y="249.51" width="4.3" height="4.3" fill="#fff" stroke="#222" stroke-width="1.1"/>
<rect x="580.14" y="249.42" width="4.3" height="4.3" fill="#fff" stroke="#222" stroke-width="1.1"/>
<rect x="583.48" y="249.33" width="4.3" height="4.3" fill="#fff" stroke="#222" stroke-width="1.1"/>
<rect x="586.81" y="249.24" width="4.3" height="4.3" fill="#fff" stroke="#222" stroke-width="1.1"/>
<rect x="590.15" y="249.15" width="4.3" height="4.3" fill="#fff" stroke="#222" stroke-width="1.1"/>
<circle cx="95.24" cy="284.19" r="1.9" fill="#fff" stroke="#000" stroke-width="2.5"/>
<circle cx="98.57" cy="285.28" r="1.9" fill="#fff" stroke="#000" stroke-width="2.5"/>
<circle cx="101.91" cy="286.34" r="1.9" fill="#fff" stroke="#000" stroke-width="2.5"/>
<circle cx="105.24" cy="287.36" r="1.9" fill="#fff" stroke="#000" stroke-width="2.5"/>
<circle cx="108.58" cy="288.34" r="1.9" fill="#fff" stroke="#000" stroke-width="2.5"/>
<circle cx="111.92" cy="289.28" r="1.9" fill="#fff" stroke="#000" stroke-width="2.5"/>
<circle cx="115.25" cy="290.19" r="1.9" fill="#fff" stroke="#000" stroke-width="2.5"/>
<circle cx="118.59" cy="291.07" r="1.9" fill="#fff" stroke="#000" stroke-width="2.5"/>
<circle cx="121.92" cy="291.92" r="1.9" fill="#fff" stroke="#000" stroke-width="2.5"/>
<circle cx="125.26" cy="292.73" r="1.9" fill="#fff" stroke="#000" stroke-width="2.5"/>
<circle cx="128.60" cy="293.52" r="1.9" fill="#fff" stroke="#000" stroke-width="2.5"/>
<circle cx="131.93" cy="294.28" r="1.9" fill="#fff" stroke="#000" stroke-width="2.5"/>
<circle cx="135.27" cy="295.01" r="1.9" fill="#fff" stroke="#000" stroke-width="2.5"/>
<circle cx="138.60" cy="295.72" r="1.9" fill="#fff" stroke="#000" stroke-width="2.5"/>
<circle cx="141.94" cy="296.40" r="1.9" fill="#fff" stroke="#000" stroke-width="2.5"/>
<circle cx="145.28" cy="297.06" r="1.9" fill="#fff" stroke="#000" stroke-width="2.5"/>
<circle cx="148.61" cy="297.69" r="1.9" fill="#fff" stroke="#000" stroke-width="2.5"/>
<circle cx="151.95" cy="298.30" r="1.9" fill="#fff" stroke="#000" stroke-width="2.5"/>
<circle cx="155.28" cy="298.89" r="1.9" fill="#fff" stroke="#000" stroke-width="2.5"/>
<circle cx="158.62" cy="299.46" r="1.9" fill="#fff" stroke="#000" stroke-width="2.5"/>
<circle cx="161.96" cy="300.01" r="1.9" fill="#fff" stroke="#000" stroke-width="2.5"/>
<circle cx="165.29" cy="300.54" r="1.9" fill="#fff" stroke="#000" stroke-width="2.5"/>
<circle cx="168.63" cy="301.06" r="1.9" fill="#fff" stroke="#000" stroke-width="2.5"/>
<circle cx="171.96" cy="301.55" r="1.9" fill="#fff" stroke="#000" stroke-width="2.5"/>
<circle cx="175.30" cy="302.03" r="1.9" fill="#fff" stroke="#000" stroke-width="2.5"/>
<circle cx="178.64" cy="302.49" r="1.9" fill="#fff" stroke="#000" stroke-width="2.5"/>
<circle cx="181.97" cy="302.94" r="1.9" fill="#fff" stroke="#000" stroke-width="2.5"/>
<circle cx="185.31" cy="303.37" r="1.9" fill="#fff" stroke="#000" stroke-width="2.5"/>
<circle cx="188.64" cy="303.78" r="1.9" fill="#fff" stroke="#000" stroke-width="2.5"/>
<circle cx="191.98" cy="304.19" r="1.9" fill="#fff" stroke="#000" stroke-width="2.5"/>
<circle cx="195.32" cy="304.58" r="1.9" fill="#fff" stroke="#000" stroke-width="2.5"/>
<circle cx="198.65" cy="304.95" r="1.9" fill="#fff" stroke="#000" stroke-width="2.5"/>
<circle cx="201.99" cy="305.31" r="1.9" fill="#fff" stroke="#000" stroke-width="2.5"/>
<circle cx="205.32" cy="305.67" r="1.9" fill="#fff" stroke="#000" stroke-width="2.5"/>
<circle cx="208.66" cy="306.01" r="1.9" fill="#fff" stroke="#000" stroke-width="2.5"/>
<circle cx="212.00" cy="306.33" r="1.9" fill="#fff" stroke="#000" stroke-width="2.5"/>
<circle cx="215.33" cy="306.65" r="1.9" fill="#fff" stroke="#000" stroke-width="2.5"/>
<circle cx="218.67" cy="306.96" r="1.9" fill="#fff" stroke="#000" stroke-width="2.5"/>
<circle cx="222.00" cy="307.26" r="1.9" fill="#fff" stroke="#000" stroke-width="2.5"/>
<circle cx="225.34" cy="307.55" r="1.9" fill="#fff" stroke="#000" stroke-width="2.5"/>
<circle cx="228.68" cy="307.83" r="1.9" fill="#fff" stroke="#000" stroke-width="2.5"/>
<circle cx="232.01" cy="308.10" r="1.9" fill="#fff" stroke="#000" stroke-width="2.5"/>
<circle cx="235.35" cy="308.36" r="1.9" fill="#fff" stroke="#000" stroke-width="2.5"/>
<circle cx="238.68" cy="308.61" r="1.9" fill="#fff" stroke="#000" stroke-width="2.5"/>
<circle cx="242.02" cy="308.86" r="1.9" fill="#fff" stroke="#000" stroke-width="2.5"/>
<circle cx="245.36" cy="309.10" r="1.9" fill="#fff" stroke="#000" stroke-width="2.5"/>
<circle cx="248.69" cy="309.33" r="1.9" fill="#fff" stroke="#000" stroke-width="2.5"/>
<circle cx="252.03" cy="309.55" r="1.9" fill="#fff" stroke="#000" stroke-width="2.5"/>
<circle cx="255.36" cy="309.77" r="1.9" fill="#fff" stroke="#000" stroke-width="2.5"/>
<circle cx="258.70" cy="309.98" r="1.9" fill="#fff" stroke="#000" stroke-width="2.5"/>
<circle cx="262.04" cy="310.19" r="1.9" fill="#fff" stroke="#000" stroke-width="2.5"/>
<circle cx="265.37" cy="310.38" r="1.9" fill="#fff" stroke="#000" stroke-width="2.5"/>
<circle cx="268.71" cy="310.58" r="1.9" fill="#fff" stroke="#000" stroke-width="2.5"/>
<circle cx="272.04" cy="310.77" r="1.9" fill="#fff" stroke="#000" stroke-width="2.5"/>
<circle cx="275.38" cy="310.95" r="1.9" fill="#fff" stroke="#000" stroke-width="2.5"/>
<circle cx="278.72" cy="311.12" r="1.9" fill="#fff" stroke="#000" stroke-width="2.5"/>
<circle cx="282.05" cy="311.30" r="1.9" fill="#fff" stroke="#000" stroke-width="2.5"/>
<circle cx="285.39" cy="311.46" r="1.9" fill="#fff" stroke="#000" stroke-width="2.5"/>
<circle cx="288.72" cy="311.63" r="1.9" fill="#fff" stroke="#000" stroke-width="2.5"/>
<circle cx="292.06" cy="311.79" r="1.9" fill="#fff" stroke="#000" stroke-width="2.5"/>
<circle cx="295.40" cy="311.94" r="1.9" fill="#fff" stroke="#000" stroke-width="2.5"/>
<circle cx="298.73" cy="312.09" r="1.9" fill="#fff" stroke="#000" stroke-width="2.5"/>
<circle cx="302.07" cy="312.24" r="1.9" fill="#fff" stroke="#000" stroke-width="2.5"/>
<circle cx="305.40" cy="312.38" r="1.9" fill="#fff" stroke="#000" stroke-width="2.5"/>
<circle cx="308.74" cy="312.52" r="1.9" fill="#fff" stroke="#000" stroke-width="2.5"/>
<circle cx="312.08" cy="312.65" r="1.9" fill="#fff" stroke="#000" stroke-width="2.5"/>
<circle cx="315.41" cy="312.79" r="1.9" fill="#fff" stroke="#000" stroke-width="2.5"/>
<circle cx="318.75" cy="312.92" r="1.9" fill="#fff" stroke="#000" stroke-width="2.5"/>
<circle cx="322.08" cy="313.04" r="1.9" fill="#fff" stroke="#000" stroke-width="2.5"/>
<circle cx="325.42" cy="313.16" r="1.9" fill="#fff" stroke="#000" stroke-width="2.5"/>
<circle cx="328.76" cy="313.28" r="1.9" fill="#fff" stroke="#000" stroke-width="2.5"/>
<circle cx="332.09" cy="313.40" r="1.9" fill="#fff" stroke="#000" stroke-width="2.5"/>
<circle cx="335.43" cy="313.52" r="1.9" fill="#fff" stroke="#000" stroke-width="2.5"/>
<circle cx="338.76" cy="313.63" r="1.9" fill="#fff" stroke="#000" stroke-width="2.5"/>
<circle cx="342.10" cy="313.74" r="1.9" fill="#fff" stroke="#000" stroke-width="2.5"/>
<circle cx="345.44" cy="313.85" r="1.9" fill="#fff" stroke="#000" stroke-width="2.5"/>
<circle cx="348.77" cy="313.95" r="1.9" fill="#fff" stroke="#000" stroke-width="2.5"/>
<circle cx="352.11" cy="314.05" r="1.9" fill="#fff" stroke="#000" stroke-width="2.5"/>
<circle cx="355.44" cy="314.15" r="1.9" fill="#fff" stroke="#000" stroke-width="2.5"/>
<circle cx="358.78" cy="314.25" r="1.9" fill="#fff" stroke="#000" stroke-width="2.5"/>
<circle cx="362.12" cy="314.35" r="1.9" fill="#fff" stroke="#000" stroke-width="2.5"/>
<circle cx="365.45" cy="314.44" r="1.9" fill="#fff" stroke="#000" stroke-width="2.5"/>
<circle cx="368.79" cy="314.54" r="1.9" fill="#fff" stroke="#000" stroke-width="2.5"/>
<circle cx="372.12" cy="314.63" r="1.9" fill="#fff" stroke="#000" stroke-width="2.5"/>
<circle cx="375.46" cy="314.72" r="1.9" fill="#fff" stroke="#000" stroke-width="2.5"/>
<circle cx="378.80" cy="314.81" r="1.9" fill="#fff" stroke="#000" stroke-width="2.5"/>
<circle cx="382.13" cy="314.89" r="1.9" fill="#fff" stroke="#000" stroke-width="2.5"/>
<circle cx="385.47" cy="314.98" r="1.9" fill="#fff" stroke="#000" stroke-width="2.5"/>
<circle cx="388.80" cy="315.06" r="1.9" fill="#fff" stroke="#000" stroke-width="2.5"/>
<circle cx="392.14" cy="315.14" r="1.9" fill="#fff" stroke="#000" stroke-width="2.5"/>
<circle cx="395.48" cy="315.22" r="1.9" fill="#fff" stroke="#000" stroke-width="2.5"/>
<circle cx="398.81" cy="315.30" r="1.9" fill="#fff" stroke="#000" stroke-width="2.5"/>
<circle cx="402.15" cy="315.38" r="1.9" fill="#fff" stroke="#000" stroke-width="2.5"/>
<circle cx="405.48" cy="315.46" r="1.9" fill="#fff" stroke="#000" stroke-width="2.5"/>
<circle cx="408.82" cy="315.54" r="1.9" fill="#fff" stroke="#000" stroke-width="2.5"/>
<circle cx="412.16" cy="315.61" r="1.9" fill="#fff" stroke="#000" stroke-width="2.5"/>
<circle cx="415.49" cy="315.68" r="1.9" fill="#fff" stroke="#000" stroke-width="2.5"/>
<circle cx="418.83" cy="315.76" r="1.9" fill="#fff" stroke="#000" stroke-width="2.5"/>
<circle cx="422.16" cy="315.83" r="1.9" fill="#fff" stroke="#000" stroke-width="2.5"/>
<circle cx="425.50" cy="315.90" r="1.9" fill="#fff" stroke="#000" stroke-width="2.5"/>
<circle cx="428.84" cy="315.97" r="1.9" fill="#fff" stroke="#000" stroke-width="2.5"/>
<circle cx="432.17" cy="316.04" r="1.9" fill="#fff" stroke="#000" stroke-width="2.5"/>
<circle cx="435.51" cy="316.11" r="1.9" fill="#fff" stroke="#000" stroke-width="2.5"/>
<circle cx="438.84" cy="316.18" r="1.9" fill="#fff" stroke="#000" stroke-width="2.5"/>
<circle cx="442.18" cy="316.24" r="1.9" fill="#fff" stroke="#000" stroke-width="2.5"/>
<circle cx="445.52" cy="316.31" r="1.9" fill="#fff" stroke="#000" stroke-width="2.5"/>
<circle cx="448.85" cy="316.37" r="1.9" fill="#fff" stroke="#000" stroke-width="2.5"/>
<circle cx="452.19" cy="316.44" r="1.9" fill="#fff" stroke="#000" stroke-width="2.5"/>
<circle cx="455.52" cy="316.50" r="1.9" fill="#fff" stroke="#000" stroke-width="2.5"/>
<circle cx="458.86" cy="316.57" r="1.9" fill="#fff" stroke="#000" stroke-width="2.5"/>
<circle cx="462.20" cy="316.63" r="1.9" fill="#fff" stroke="#000" stroke-width="2.5"/>
<circle cx="465.53" cy="316.69" r="1.9" fill="#fff" stroke="#000" stroke-width="2.5"/>
<circle cx="468.87" cy="316.75" r="1.9" fill="#fff" stroke="#000" stroke-width="2.5"/>
<circle cx="472.20" cy="316.81" r="1.9" fill="#fff" stroke="#000" stroke-width="2.5"/>
<circle cx="475.54" cy="316.87" r="1.9" fill="#fff" stroke="#000" stroke-width="2.5"/>
<circle cx="478.88" cy="316.94" r="1.9" fill="#fff" stroke="#000" stroke-width="2.5"/>
<circle cx="482.21" cy="316.99" r="1.9" fill="#fff" stroke="#000" stroke-width="2.5"/>
<circle cx="485.55" cy="317.05" r="1.9" fill="#fff" stroke="#000" stroke-width="2.5"/>
<circle cx="488.88" cy="317.11" r="1.9" fill="#fff" stroke="#000" stroke-width="2.5"/>
<circle cx="492.22" cy="317.17" r="1.9" fill="#fff" stroke="#000" stroke-width="2.5"/>
<circle cx="495.56" cy="317.23" r="1.9" fill="#fff" stroke="#000" stroke-width="2.5"/>
<circle cx="498.89" cy="317.29" r="1.9" fill="#fff" stroke="#000" stroke-width="2.5"/>
<circle cx="502.23" cy="317.34" r="1.9" fill="#fff" stroke="#000" stroke-width="2.5"/>
<circle cx="505.56" cy="317.40" r="1.9" fill="#fff" stroke="#000" stroke-width="2.5"/>
<circle cx="508.90" cy="317.46" r="1.9" fill="#fff" stroke="#000" stroke-width="2.5"/>
<circle cx="512.24" cy="317.51" r="1.9" fill="#fff" stroke="#000" stroke-width="2.5"/>
<circle cx="515.57" cy="317.57" r="1.9" fill="#fff" stroke="#000" stroke-width="2.5"/>
<circle cx="518.91" cy="317.62" r="1.9" fill="#fff" stroke="#000" stroke-width="2.5"/>
<circle cx="522.24" cy="317.68" r="1.9" fill="#fff" stroke="#000" stroke-width="2.5"/>
<circle cx="525.58" cy="317.73" r="1.9" fill="#fff" stroke="#000" stroke-width="2.5"/>
<circle cx="528.92" cy="317.79" r="1.9" fill="#fff" stroke="#000" stroke-width="2.5"/>
<circle cx="532.25" cy="317.84" r="1.9" fill="#fff" stroke="#000" stroke-width="2.5"/>
<circle cx="535.59" cy="317.90" r="1.9" fill="#fff" stroke="#000" stroke-width="2.5"/>
<circle cx="538.92" cy="317.95" r="1.9" fill="#fff" stroke="#000" stroke-width="2.5"/>
<circle cx="542.26" cy="318.00" r="1.9" fill="#fff" stroke="#000" stroke-width="2.5"/>
<circle cx="545.60" cy="318.06" r="1.9" fill="#fff" stroke="#000" stroke-width="2.5"/>
<circle cx="548.93" cy="318.11" r="1.9" fill="#fff" stroke="#000" stroke-width="2.5"/>
<circle cx="552.27" cy="318.16" r="1.9" fill="#fff" stroke="#000" stroke-width="2.5"/>
<circle cx="555.60" cy="318.21" r="1.9" fill="#fff" stroke="#000" stroke-width="2.5"/>
<circle cx="558.94" cy="318.27" r="1.9" fill="#fff" stroke="#000" stroke-width="2.5"/>
<circle cx="562.28" cy="318.32" r="1.9" fill="#fff" stroke="#000" stroke-width="2.5"/>
<circle cx="565.61" cy="318.37" r="1.9" fill="#fff" stroke="#000" stroke-width="2.5"/>
<circle cx="568.95" cy="318.42" r="1.9" fill="#fff" stroke="#000" stroke-width="2.5"/>
<circle cx="572.28" cy="318.47" r="1.9" fill="#fff" stroke="#000" stroke-width="2.5"/>
<circle cx="575.62" cy="318.53" r="1.9" fill="#fff" stroke="#000" stroke-width="2.5"/>
<circle cx="578.96" cy="318.58" r="1.9" fill="#fff" stroke="#000" stroke-width="2.5"/>
<circle cx="582.29" cy="318.63" r="1.9" fill="#fff" stroke="#000" stroke-width="2.5"/>
<circle cx="585.63" cy="318.68" r="1.9" fill="#fff" stroke="#000" stroke-width="2.5"/>
<circle cx="588.96" cy="318.73" r="1.9" fill="#fff" stroke="#000" stroke-width="2.5"/>
<circle cx="592.30" cy="318.78" r="1.9" fill="#fff" stroke="#000" stroke-width="2.5"/>
</g>
<rect x="92.40" y="240.40" width="500.40" height="133.70" fill="none" stroke="#000" stroke-width="2.5"/>
<text x="84.50" y="378.40" font-size="12" text-anchor="end">0</text>
<line x1="92.40" y1="351.82" x2="99.90" y2="351.82" stroke="#000" stroke-width="2"/>
<text x="84.50" y="356.12" font-size="12" text-anchor="end">20</text>
<line x1="92.40" y1="329.53" x2="99.90" y2="329.53" stroke="#000" stroke-width="2"/>
<text x="84.50" y="333.83" font-size="12" text-anchor="end">40</text>
<line x1="92.40" y1="307.25" x2="99.90" y2="307.25" stroke="#000" stroke-width="2"/>
<text x="84.50" y="311.55" font-size="12" text-anchor="end">60</text>
<line x1="92.40" y1="284.97" x2="99.90" y2="284.97" stroke="#000" stroke-width="2"/>
<text x="84.50" y="289.27" font-size="12" text-anchor="end">80</text>
<line x1="92.40" y1="262.68" x2="99.90" y2="262.68" stroke="#000" stroke-width="2"/>
<text x="84.50" y="266.98" font-size="12" text-anchor="end">100</text>
<text x="84.50" y="244.70" font-size="12" text-anchor="end">120</text>
<line x1="92.40" y1="362.96" x2="96.90" y2="362.96" stroke="#000" stroke-width="2"/>
<line x1="92.40" y1="340.68" x2="96.90" y2="340.68" stroke="#000" stroke-width="2"/>
<line x1="92.40" y1="318.39" x2="96.90" y2="318.39" stroke="#000" stroke-width="2"/>
<line x1="92.40" y1="296.11" x2="96.90" y2="296.11" stroke="#000" stroke-width="2"/>
<line x1="92.40" y1="273.82" x2="96.90" y2="273.82" stroke="#000" stroke-width="2"/>
<line x1="92.40" y1="251.54" x2="96.90" y2="251.54" stroke="#000" stroke-width="2"/>
<text x="600.80" y="378.10" font-size="12">0</text>
<line x1="592.80" y1="347.36" x2="585.80" y2="347.36" stroke="#000" stroke-width="2"/>
<text x="600.80" y="351.66" font-size="12">20</text>
<line x1="592.80" y1="320.92" x2="585.80" y2="320.92" stroke="#000" stroke-width="2"/>
<text x="600.80" y="325.22" font-size="12">40</text>
<line x1="592.80" y1="294.48" x2="585.80" y2="294.48" stroke="#000" stroke-width="2"/>
<text x="600.80" y="298.78" font-size="12">60</text>
<line x1="592.80" y1="268.04" x2="585.80" y2="268.04" stroke="#000" stroke-width="2"/>
<text x="600.80" y="272.34" font-size="12">80</text>
<text x="600.80" y="245.90" font-size="12">100</text>
<line x1="592.80" y1="360.58" x2="588.80" y2="360.58" stroke="#000" stroke-width="2"/>
<line x1="592.80" y1="334.14" x2="588.80" y2="334.14" stroke="#000" stroke-width="2"/>
<line x1="592.80" y1="307.70" x2="588.80" y2="307.70" stroke="#000" stroke-width="2"/>
<line x1="592.80" y1="281.26" x2="588.80" y2="281.26" stroke="#000" stroke-width="2"/>
<line x1="592.80" y1="254.82" x2="588.80" y2="254.82" stroke="#000" stroke-width="2"/>
<text x="92.40" y="391.70" font-size="12" text-anchor="middle">0</text>
<line x1="259.20" y1="374.10" x2="259.20" y2="367.10" stroke="#000" stroke-width="1.8"/>
<text x="259.20" y="391.70" font-size="12" text-anchor="middle">50</text>
<line x1="426.00" y1="374.10" x2="426.00" y2="367.10" stroke="#000" stroke-width="1.8"/>
<text x="426.00" y="391.70" font-size="12" text-anchor="middle">100</text>
<text x="592.80" y="391.70" font-size="12" text-anchor="middle">150</text>
<line x1="175.80" y1="374.10" x2="175.80" y2="370.60" stroke="#000" stroke-width="1.8"/>
<line x1="342.60" y1="374.10" x2="342.60" y2="370.60" stroke="#000" stroke-width="1.8"/>
<line x1="509.40" y1="374.10" x2="509.40" y2="370.60" stroke="#000" stroke-width="1.8"/>
<text x="347.60" y="409.60" font-size="14" text-anchor="middle">Cycle number</text>
<text x="102.50" y="366.00" font-size="14.5">NIB</text>
<line x1="415.20" y1="358.60" x2="434.90" y2="358.60" stroke="#000" stroke-width="1.7"/>
<circle cx="425" cy="358.6" r="1.8" fill="#fff" stroke="#000" stroke-width="1.9"/>
<text x="438.50" y="361.30" font-size="14">Discharge</text>
<text x="521.50" y="361.50" font-size="14.5">20 mA g<tspan font-size="9.5" dy="-5.5">-1</tspan></text>
<text x="3.00" y="240.30" font-size="20">(b)</text>
<path d="M540.1 261.3 C 550 268.5, 562 273.5, 578.5 275.8" fill="none" stroke="#000" stroke-width="1.8"/>
<polygon points="577.8,272 585.6,275.6 577.8,279.6" fill="#000"/>
<text transform="translate(52.5,311) rotate(-90)" font-size="14" text-anchor="middle">Specific Capacity (mAh g<tspan font-size="9" dy="-6">-1</tspan><tspan font-size="9" dy="8" dx="-6">anode</tspan><tspan dy="-2">)</tspan></text>
<text transform="translate(643,315) rotate(-90)" font-size="14" text-anchor="middle">Coulombic Efficiency (%)</text>
<clipPath id="cc"><rect x="93.20" y="444.40" width="500.00" height="133.10"/></clipPath>
<g clip-path="url(#cc)">
<rect x="94" y="456.3" width="499" height="5.6" fill="#e8e8e8"/>
<rect x="94" y="456.3" width="499" height="1.4" fill="#3a3a3a"/>
<rect x="94" y="460.5" width="499" height="1.4" fill="#3a3a3a"/>
<rect x="94" y="457.7" width="1" height="2.8" fill="#555"/>
<rect x="96" y="457.7" width="1" height="2.8" fill="#555"/>
<rect x="98" y="457.7" width="1" height="2.8" fill="#555"/>
<rect x="100" y="457.7" width="1" height="2.8" fill="#555"/>
<rect x="102" y="457.7" width="1" height="2.8" fill="#555"/>
<rect x="104" y="457.7" width="1" height="2.8" fill="#555"/>
<rect x="106" y="457.7" width="1" height="2.8" fill="#555"/>
<rect x="108" y="457.7" width="1" height="2.8" fill="#555"/>
<rect x="110" y="457.7" width="1" height="2.8" fill="#555"/>
<rect x="112" y="457.7" width="1" height="2.8" fill="#555"/>
<rect x="114" y="457.7" width="1" height="2.8" fill="#555"/>
<rect x="116" y="457.7" width="1" height="2.8" fill="#555"/>
<rect x="118" y="457.7" width="1" height="2.8" fill="#555"/>
<rect x="120" y="457.7" width="1" height="2.8" fill="#555"/>
<rect x="122" y="457.7" width="1" height="2.8" fill="#555"/>
<rect x="124" y="457.7" width="1" height="2.8" fill="#555"/>
<rect x="126" y="457.7" width="1" height="2.8" fill="#555"/>
<rect x="128" y="457.7" width="1" height="2.8" fill="#555"/>
<rect x="130" y="457.7" width="1" height="2.8" fill="#555"/>
<rect x="132" y="457.7" width="1" height="2.8" fill="#555"/>
<rect x="134" y="457.7" width="1" height="2.8" fill="#555"/>
<rect x="136" y="457.7" width="1" height="2.8" fill="#555"/>
<rect x="138" y="457.7" width="1" height="2.8" fill="#555"/>
<rect x="140" y="457.7" width="1" height="2.8" fill="#555"/>
<rect x="142" y="457.7" width="1" height="2.8" fill="#555"/>
<rect x="144" y="457.7" width="1" height="2.8" fill="#555"/>
<rect x="146" y="457.7" width="1" height="2.8" fill="#555"/>
<rect x="148" y="457.7" width="1" height="2.8" fill="#555"/>
<rect x="150" y="457.7" width="1" height="2.8" fill="#555"/>
<rect x="152" y="457.7" width="1" height="2.8" fill="#555"/>
<rect x="154" y="457.7" width="1" height="2.8" fill="#555"/>
<rect x="156" y="457.7" width="1" height="2.8" fill="#555"/>
<rect x="158" y="457.7" width="1" height="2.8" fill="#555"/>
<rect x="160" y="457.7" width="1" height="2.8" fill="#555"/>
<rect x="162" y="457.7" width="1" height="2.8" fill="#555"/>
<rect x="164" y="457.7" width="1" height="2.8" fill="#555"/>
<rect x="166" y="457.7" width="1" height="2.8" fill="#555"/>
<rect x="168" y="457.7" width="1" height="2.8" fill="#555"/>
<rect x="170" y="457.7" width="1" height="2.8" fill="#555"/>
<rect x="172" y="457.7" width="1" height="2.8" fill="#555"/>
<rect x="174" y="457.7" width="1" height="2.8" fill="#555"/>
<rect x="176" y="457.7" width="1" height="2.8" fill="#555"/>
<rect x="178" y="457.7" width="1" height="2.8" fill="#555"/>
<rect x="180" y="457.7" width="1" height="2.8" fill="#555"/>
<rect x="182" y="457.7" width="1" height="2.8" fill="#555"/>
<rect x="184" y="457.7" width="1" height="2.8" fill="#555"/>
<rect x="186" y="457.7" width="1" height="2.8" fill="#555"/>
<rect x="188" y="457.7" width="1" height="2.8" fill="#555"/>
<rect x="190" y="457.7" width="1" height="2.8" fill="#555"/>
<rect x="192" y="457.7" width="1" height="2.8" fill="#555"/>
<rect x="194" y="457.7" width="1" height="2.8" fill="#555"/>
<rect x="196" y="457.7" width="1" height="2.8" fill="#555"/>
<rect x="198" y="457.7" width="1" height="2.8" fill="#555"/>
<rect x="200" y="457.7" width="1" height="2.8" fill="#555"/>
<rect x="202" y="457.7" width="1" height="2.8" fill="#555"/>
<rect x="204" y="457.7" width="1" height="2.8" fill="#555"/>
<rect x="206" y="457.7" width="1" height="2.8" fill="#555"/>
<rect x="208" y="457.7" width="1" height="2.8" fill="#555"/>
<rect x="210" y="457.7" width="1" height="2.8" fill="#555"/>
<rect x="212" y="457.7" width="1" height="2.8" fill="#555"/>
<rect x="214" y="457.7" width="1" height="2.8" fill="#555"/>
<rect x="216" y="457.7" width="1" height="2.8" fill="#555"/>
<rect x="218" y="457.7" width="1" height="2.8" fill="#555"/>
<rect x="220" y="457.7" width="1" height="2.8" fill="#555"/>
<rect x="222" y="457.7" width="1" height="2.8" fill="#555"/>
<rect x="224" y="457.7" width="1" height="2.8" fill="#555"/>
<rect x="226" y="457.7" width="1" height="2.8" fill="#555"/>
<rect x="228" y="457.7" width="1" height="2.8" fill="#555"/>
<rect x="230" y="457.7" width="1" height="2.8" fill="#555"/>
<rect x="232" y="457.7" width="1" height="2.8" fill="#555"/>
<rect x="234" y="457.7" width="1" height="2.8" fill="#555"/>
<rect x="236" y="457.7" width="1" height="2.8" fill="#555"/>
<rect x="238" y="457.7" width="1" height="2.8" fill="#555"/>
<rect x="240" y="457.7" width="1" height="2.8" fill="#555"/>
<rect x="242" y="457.7" width="1" height="2.8" fill="#555"/>
<rect x="244" y="457.7" width="1" height="2.8" fill="#555"/>
<rect x="246" y="457.7" width="1" height="2.8" fill="#555"/>
<rect x="248" y="457.7" width="1" height="2.8" fill="#555"/>
<rect x="250" y="457.7" width="1" height="2.8" fill="#555"/>
<rect x="252" y="457.7" width="1" height="2.8" fill="#555"/>
<rect x="254" y="457.7" width="1" height="2.8" fill="#555"/>
<rect x="256" y="457.7" width="1" height="2.8" fill="#555"/>
<rect x="258" y="457.7" width="1" height="2.8" fill="#555"/>
<rect x="260" y="457.7" width="1" height="2.8" fill="#555"/>
<rect x="262" y="457.7" width="1" height="2.8" fill="#555"/>
<rect x="264" y="457.7" width="1" height="2.8" fill="#555"/>
<rect x="266" y="457.7" width="1" height="2.8" fill="#555"/>
<rect x="268" y="457.7" width="1" height="2.8" fill="#555"/>
<rect x="270" y="457.7" width="1" height="2.8" fill="#555"/>
<rect x="272" y="457.7" width="1" height="2.8" fill="#555"/>
<rect x="274" y="457.7" width="1" height="2.8" fill="#555"/>
<rect x="276" y="457.7" width="1" height="2.8" fill="#555"/>
<rect x="278" y="457.7" width="1" height="2.8" fill="#555"/>
<rect x="280" y="457.7" width="1" height="2.8" fill="#555"/>
<rect x="282" y="457.7" width="1" height="2.8" fill="#555"/>
<rect x="284" y="457.7" width="1" height="2.8" fill="#555"/>
<rect x="286" y="457.7" width="1" height="2.8" fill="#555"/>
<rect x="288" y="457.7" width="1" height="2.8" fill="#555"/>
<rect x="290" y="457.7" width="1" height="2.8" fill="#555"/>
<rect x="292" y="457.7" width="1" height="2.8" fill="#555"/>
<rect x="294" y="457.7" width="1" height="2.8" fill="#555"/>
<rect x="296" y="457.7" width="1" height="2.8" fill="#555"/>
<rect x="298" y="457.7" width="1" height="2.8" fill="#555"/>
<rect x="300" y="457.7" width="1" height="2.8" fill="#555"/>
<rect x="302" y="457.7" width="1" height="2.8" fill="#555"/>
<rect x="304" y="457.7" width="1" height="2.8" fill="#555"/>
<rect x="306" y="457.7" width="1" height="2.8" fill="#555"/>
<rect x="308" y="457.7" width="1" height="2.8" fill="#555"/>
<rect x="310" y="457.7" width="1" height="2.8" fill="#555"/>
<rect x="312" y="457.7" width="1" height="2.8" fill="#555"/>
<rect x="314" y="457.7" width="1" height="2.8" fill="#555"/>
<rect x="316" y="457.7" width="1" height="2.8" fill="#555"/>
<rect x="318" y="457.7" width="1" height="2.8" fill="#555"/>
<rect x="320" y="457.7" width="1" height="2.8" fill="#555"/>
<rect x="322" y="457.7" width="1" height="2.8" fill="#555"/>
<rect x="324" y="457.7" width="1" height="2.8" fill="#555"/>
<rect x="326" y="457.7" width="1" height="2.8" fill="#555"/>
<rect x="328" y="457.7" width="1" height="2.8" fill="#555"/>
<rect x="330" y="457.7" width="1" height="2.8" fill="#555"/>
<rect x="332" y="457.7" width="1" height="2.8" fill="#555"/>
<rect x="334" y="457.7" width="1" height="2.8" fill="#555"/>
<rect x="336" y="457.7" width="1" height="2.8" fill="#555"/>
<rect x="338" y="457.7" width="1" height="2.8" fill="#555"/>
<rect x="340" y="457.7" width="1" height="2.8" fill="#555"/>
<rect x="342" y="457.7" width="1" height="2.8" fill="#555"/>
<rect x="344" y="457.7" width="1" height="2.8" fill="#555"/>
<rect x="346" y="457.7" width="1" height="2.8" fill="#555"/>
<rect x="348" y="457.7" width="1" height="2.8" fill="#555"/>
<rect x="350" y="457.7" width="1" height="2.8" fill="#555"/>
<rect x="352" y="457.7" width="1" height="2.8" fill="#555"/>
<rect x="354" y="457.7" width="1" height="2.8" fill="#555"/>
<rect x="356" y="457.7" width="1" height="2.8" fill="#555"/>
<rect x="358" y="457.7" width="1" height="2.8" fill="#555"/>
<rect x="360" y="457.7" width="1" height="2.8" fill="#555"/>
<rect x="362" y="457.7" width="1" height="2.8" fill="#555"/>
<rect x="364" y="457.7" width="1" height="2.8" fill="#555"/>
<rect x="366" y="457.7" width="1" height="2.8" fill="#555"/>
<rect x="368" y="457.7" width="1" height="2.8" fill="#555"/>
<rect x="370" y="457.7" width="1" height="2.8" fill="#555"/>
<rect x="372" y="457.7" width="1" height="2.8" fill="#555"/>
<rect x="374" y="457.7" width="1" height="2.8" fill="#555"/>
<rect x="376" y="457.7" width="1" height="2.8" fill="#555"/>
<rect x="378" y="457.7" width="1" height="2.8" fill="#555"/>
<rect x="380" y="457.7" width="1" height="2.8" fill="#555"/>
<rect x="382" y="457.7" width="1" height="2.8" fill="#555"/>
<rect x="384" y="457.7" width="1" height="2.8" fill="#555"/>
<rect x="386" y="457.7" width="1" height="2.8" fill="#555"/>
<rect x="388" y="457.7" width="1" height="2.8" fill="#555"/>
<rect x="390" y="457.7" width="1" height="2.8" fill="#555"/>
<rect x="392" y="457.7" width="1" height="2.8" fill="#555"/>
<rect x="394" y="457.7" width="1" height="2.8" fill="#555"/>
<rect x="396" y="457.7" width="1" height="2.8" fill="#555"/>
<rect x="398" y="457.7" width="1" height="2.8" fill="#555"/>
<rect x="400" y="457.7" width="1" height="2.8" fill="#555"/>
<rect x="402" y="457.7" width="1" height="2.8" fill="#555"/>
<rect x="404" y="457.7" width="1" height="2.8" fill="#555"/>
<rect x="406" y="457.7" width="1" height="2.8" fill="#555"/>
<rect x="408" y="457.7" width="1" height="2.8" fill="#555"/>
<rect x="410" y="457.7" width="1" height="2.8" fill="#555"/>
<rect x="412" y="457.7" width="1" height="2.8" fill="#555"/>
<rect x="414" y="457.7" width="1" height="2.8" fill="#555"/>
<rect x="416" y="457.7" width="1" height="2.8" fill="#555"/>
<rect x="418" y="457.7" width="1" height="2.8" fill="#555"/>
<rect x="420" y="457.7" width="1" height="2.8" fill="#555"/>
<rect x="422" y="457.7" width="1" height="2.8" fill="#555"/>
<rect x="424" y="457.7" width="1" height="2.8" fill="#555"/>
<rect x="426" y="457.7" width="1" height="2.8" fill="#555"/>
<rect x="428" y="457.7" width="1" height="2.8" fill="#555"/>
<rect x="430" y="457.7" width="1" height="2.8" fill="#555"/>
<rect x="432" y="457.7" width="1" height="2.8" fill="#555"/>
<rect x="434" y="457.7" width="1" height="2.8" fill="#555"/>
<rect x="436" y="457.7" width="1" height="2.8" fill="#555"/>
<rect x="438" y="457.7" width="1" height="2.8" fill="#555"/>
<rect x="440" y="457.7" width="1" height="2.8" fill="#555"/>
<rect x="442" y="457.7" width="1" height="2.8" fill="#555"/>
<rect x="444" y="457.7" width="1" height="2.8" fill="#555"/>
<rect x="446" y="457.7" width="1" height="2.8" fill="#555"/>
<rect x="448" y="457.7" width="1" height="2.8" fill="#555"/>
<rect x="450" y="457.7" width="1" height="2.8" fill="#555"/>
<rect x="452" y="457.7" width="1" height="2.8" fill="#555"/>
<rect x="454" y="457.7" width="1" height="2.8" fill="#555"/>
<rect x="456" y="457.7" width="1" height="2.8" fill="#555"/>
<rect x="458" y="457.7" width="1" height="2.8" fill="#555"/>
<rect x="460" y="457.7" width="1" height="2.8" fill="#555"/>
<rect x="462" y="457.7" width="1" height="2.8" fill="#555"/>
<rect x="464" y="457.7" width="1" height="2.8" fill="#555"/>
<rect x="466" y="457.7" width="1" height="2.8" fill="#555"/>
<rect x="468" y="457.7" width="1" height="2.8" fill="#555"/>
<rect x="470" y="457.7" width="1" height="2.8" fill="#555"/>
<rect x="472" y="457.7" width="1" height="2.8" fill="#555"/>
<rect x="474" y="457.7" width="1" height="2.8" fill="#555"/>
<rect x="476" y="457.7" width="1" height="2.8" fill="#555"/>
<rect x="478" y="457.7" width="1" height="2.8" fill="#555"/>
<rect x="480" y="457.7" width="1" height="2.8" fill="#555"/>
<rect x="482" y="457.7" width="1" height="2.8" fill="#555"/>
<rect x="484" y="457.7" width="1" height="2.8" fill="#555"/>
<rect x="486" y="457.7" width="1" height="2.8" fill="#555"/>
<rect x="488" y="457.7" width="1" height="2.8" fill="#555"/>
<rect x="490" y="457.7" width="1" height="2.8" fill="#555"/>
<rect x="492" y="457.7" width="1" height="2.8" fill="#555"/>
<rect x="494" y="457.7" width="1" height="2.8" fill="#555"/>
<rect x="496" y="457.7" width="1" height="2.8" fill="#555"/>
<rect x="498" y="457.7" width="1" height="2.8" fill="#555"/>
<rect x="500" y="457.7" width="1" height="2.8" fill="#555"/>
<rect x="502" y="457.7" width="1" height="2.8" fill="#555"/>
<rect x="504" y="457.7" width="1" height="2.8" fill="#555"/>
<rect x="506" y="457.7" width="1" height="2.8" fill="#555"/>
<rect x="508" y="457.7" width="1" height="2.8" fill="#555"/>
<rect x="510" y="457.7" width="1" height="2.8" fill="#555"/>
<rect x="512" y="457.7" width="1" height="2.8" fill="#555"/>
<rect x="514" y="457.7" width="1" height="2.8" fill="#555"/>
<rect x="516" y="457.7" width="1" height="2.8" fill="#555"/>
<rect x="518" y="457.7" width="1" height="2.8" fill="#555"/>
<rect x="520" y="457.7" width="1" height="2.8" fill="#555"/>
<rect x="522" y="457.7" width="1" height="2.8" fill="#555"/>
<rect x="524" y="457.7" width="1" height="2.8" fill="#555"/>
<rect x="526" y="457.7" width="1" height="2.8" fill="#555"/>
<rect x="528" y="457.7" width="1" height="2.8" fill="#555"/>
<rect x="530" y="457.7" width="1" height="2.8" fill="#555"/>
<rect x="532" y="457.7" width="1" height="2.8" fill="#555"/>
<rect x="534" y="457.7" width="1" height="2.8" fill="#555"/>
<rect x="536" y="457.7" width="1" height="2.8" fill="#555"/>
<rect x="538" y="457.7" width="1" height="2.8" fill="#555"/>
<rect x="540" y="457.7" width="1" height="2.8" fill="#555"/>
<rect x="542" y="457.7" width="1" height="2.8" fill="#555"/>
<rect x="544" y="457.7" width="1" height="2.8" fill="#555"/>
<rect x="546" y="457.7" width="1" height="2.8" fill="#555"/>
<rect x="548" y="457.7" width="1" height="2.8" fill="#555"/>
<rect x="550" y="457.7" width="1" height="2.8" fill="#555"/>
<rect x="552" y="457.7" width="1" height="2.8" fill="#555"/>
<rect x="554" y="457.7" width="1" height="2.8" fill="#555"/>
<rect x="556" y="457.7" width="1" height="2.8" fill="#555"/>
<rect x="558" y="457.7" width="1" height="2.8" fill="#555"/>
<rect x="560" y="457.7" width="1" height="2.8" fill="#555"/>
<rect x="562" y="457.7" width="1" height="2.8" fill="#555"/>
<rect x="564" y="457.7" width="1" height="2.8" fill="#555"/>
<rect x="566" y="457.7" width="1" height="2.8" fill="#555"/>
<rect x="568" y="457.7" width="1" height="2.8" fill="#555"/>
<rect x="570" y="457.7" width="1" height="2.8" fill="#555"/>
<rect x="572" y="457.7" width="1" height="2.8" fill="#555"/>
<rect x="574" y="457.7" width="1" height="2.8" fill="#555"/>
<rect x="576" y="457.7" width="1" height="2.8" fill="#555"/>
<rect x="578" y="457.7" width="1" height="2.8" fill="#555"/>
<rect x="580" y="457.7" width="1" height="2.8" fill="#555"/>
<rect x="582" y="457.7" width="1" height="2.8" fill="#555"/>
<rect x="584" y="457.7" width="1" height="2.8" fill="#555"/>
<rect x="586" y="457.7" width="1" height="2.8" fill="#555"/>
<rect x="588" y="457.7" width="1" height="2.8" fill="#555"/>
<rect x="590" y="457.7" width="1" height="2.8" fill="#555"/>
<rect x="592" y="457.7" width="1" height="2.8" fill="#555"/>
<circle cx="94.60" cy="475.80" r="1.85" fill="#fff" stroke="#000" stroke-width="2.1"/>
<circle cx="97.00" cy="478.28" r="1.85" fill="#fff" stroke="#000" stroke-width="2.1"/>
<circle cx="99.00" cy="478.36" r="1.85" fill="#fff" stroke="#000" stroke-width="2.1"/>
<circle cx="101.00" cy="478.44" r="1.85" fill="#fff" stroke="#000" stroke-width="2.1"/>
<circle cx="103.00" cy="478.52" r="1.85" fill="#fff" stroke="#000" stroke-width="2.1"/>
<circle cx="105.00" cy="478.60" r="1.85" fill="#fff" stroke="#000" stroke-width="2.1"/>
<circle cx="107.00" cy="478.68" r="1.85" fill="#fff" stroke="#000" stroke-width="2.1"/>
<circle cx="109.00" cy="478.76" r="1.85" fill="#fff" stroke="#000" stroke-width="2.1"/>
<circle cx="111.00" cy="478.84" r="1.85" fill="#fff" stroke="#000" stroke-width="2.1"/>
<circle cx="113.00" cy="478.92" r="1.85" fill="#fff" stroke="#000" stroke-width="2.1"/>
<circle cx="115.00" cy="479.00" r="1.85" fill="#fff" stroke="#000" stroke-width="2.1"/>
<circle cx="117.00" cy="479.09" r="1.85" fill="#fff" stroke="#000" stroke-width="2.1"/>
<circle cx="119.00" cy="479.17" r="1.85" fill="#fff" stroke="#000" stroke-width="2.1"/>
<circle cx="121.00" cy="479.26" r="1.85" fill="#fff" stroke="#000" stroke-width="2.1"/>
<circle cx="123.00" cy="479.35" r="1.85" fill="#fff" stroke="#000" stroke-width="2.1"/>
<circle cx="125.00" cy="479.43" r="1.85" fill="#fff" stroke="#000" stroke-width="2.1"/>
<circle cx="127.00" cy="479.52" r="1.85" fill="#fff" stroke="#000" stroke-width="2.1"/>
<circle cx="129.00" cy="479.61" r="1.85" fill="#fff" stroke="#000" stroke-width="2.1"/>
<circle cx="131.00" cy="479.70" r="1.85" fill="#fff" stroke="#000" stroke-width="2.1"/>
<circle cx="133.00" cy="479.78" r="1.85" fill="#fff" stroke="#000" stroke-width="2.1"/>
<circle cx="135.00" cy="479.87" r="1.85" fill="#fff" stroke="#000" stroke-width="2.1"/>
<circle cx="137.00" cy="479.96" r="1.85" fill="#fff" stroke="#000" stroke-width="2.1"/>
<circle cx="139.00" cy="480.04" r="1.85" fill="#fff" stroke="#000" stroke-width="2.1"/>
<circle cx="141.00" cy="480.13" r="1.85" fill="#fff" stroke="#000" stroke-width="2.1"/>
<circle cx="143.00" cy="480.22" r="1.85" fill="#fff" stroke="#000" stroke-width="2.1"/>
<circle cx="145.00" cy="480.31" r="1.85" fill="#fff" stroke="#000" stroke-width="2.1"/>
<circle cx="147.00" cy="480.39" r="1.85" fill="#fff" stroke="#000" stroke-width="2.1"/>
<circle cx="149.00" cy="480.48" r="1.85" fill="#fff" stroke="#000" stroke-width="2.1"/>
<circle cx="151.00" cy="480.57" r="1.85" fill="#fff" stroke="#000" stroke-width="2.1"/>
<circle cx="153.00" cy="480.66" r="1.85" fill="#fff" stroke="#000" stroke-width="2.1"/>
<circle cx="155.00" cy="480.74" r="1.85" fill="#fff" stroke="#000" stroke-width="2.1"/>
<circle cx="157.00" cy="480.83" r="1.85" fill="#fff" stroke="#000" stroke-width="2.1"/>
<circle cx="159.00" cy="480.92" r="1.85" fill="#fff" stroke="#000" stroke-width="2.1"/>
<circle cx="161.00" cy="481.01" r="1.85" fill="#fff" stroke="#000" stroke-width="2.1"/>
<circle cx="163.00" cy="481.09" r="1.85" fill="#fff" stroke="#000" stroke-width="2.1"/>
<circle cx="165.00" cy="481.18" r="1.85" fill="#fff" stroke="#000" stroke-width="2.1"/>
<circle cx="167.00" cy="481.27" r="1.85" fill="#fff" stroke="#000" stroke-width="2.1"/>
<circle cx="169.00" cy="481.36" r="1.85" fill="#fff" stroke="#000" stroke-width="2.1"/>
<circle cx="171.00" cy="481.46" r="1.85" fill="#fff" stroke="#000" stroke-width="2.1"/>
<circle cx="173.00" cy="481.58" r="1.85" fill="#fff" stroke="#000" stroke-width="2.1"/>
<circle cx="175.00" cy="481.70" r="1.85" fill="#fff" stroke="#000" stroke-width="2.1"/>
<circle cx="177.00" cy="481.82" r="1.85" fill="#fff" stroke="#000" stroke-width="2.1"/>
<circle cx="179.00" cy="481.95" r="1.85" fill="#fff" stroke="#000" stroke-width="2.1"/>
<circle cx="181.00" cy="482.07" r="1.85" fill="#fff" stroke="#000" stroke-width="2.1"/>
<circle cx="183.00" cy="482.19" r="1.85" fill="#fff" stroke="#000" stroke-width="2.1"/>
<circle cx="185.00" cy="482.31" r="1.85" fill="#fff" stroke="#000" stroke-width="2.1"/>
<circle cx="187.00" cy="482.69" r="1.85" fill="#fff" stroke="#000" stroke-width="2.1"/>
<circle cx="189.00" cy="483.31" r="1.85" fill="#fff" stroke="#000" stroke-width="2.1"/>
<circle cx="191.00" cy="483.92" r="1.85" fill="#fff" stroke="#000" stroke-width="2.1"/>
<circle cx="193.00" cy="484.53" r="1.85" fill="#fff" stroke="#000" stroke-width="2.1"/>
<circle cx="195.00" cy="485.13" r="1.85" fill="#fff" stroke="#000" stroke-width="2.1"/>
<circle cx="197.00" cy="485.72" r="1.85" fill="#fff" stroke="#000" stroke-width="2.1"/>
<circle cx="199.00" cy="486.30" r="1.85" fill="#fff" stroke="#000" stroke-width="2.1"/>
<circle cx="201.00" cy="486.88" r="1.85" fill="#fff" stroke="#000" stroke-width="2.1"/>
<circle cx="203.00" cy="487.45" r="1.85" fill="#fff" stroke="#000" stroke-width="2.1"/>
<circle cx="205.00" cy="488.01" r="1.85" fill="#fff" stroke="#000" stroke-width="2.1"/>
<circle cx="207.00" cy="488.57" r="1.85" fill="#fff" stroke="#000" stroke-width="2.1"/>
<circle cx="209.00" cy="489.12" r="1.85" fill="#fff" stroke="#000" stroke-width="2.1"/>
<circle cx="211.00" cy="489.66" r="1.85" fill="#fff" stroke="#000" stroke-width="2.1"/>
<circle cx="213.00" cy="490.19" r="1.85" fill="#fff" stroke="#000" stroke-width="2.1"/>
<circle cx="215.00" cy="490.72" r="1.85" fill="#fff" stroke="#000" stroke-width="2.1"/>
<circle cx="217.00" cy="491.24" r="1.85" fill="#fff" stroke="#000" stroke-width="2.1"/>
<circle cx="219.00" cy="491.76" r="1.85" fill="#fff" stroke="#000" stroke-width="2.1"/>
<circle cx="221.00" cy="492.27" r="1.85" fill="#fff" stroke="#000" stroke-width="2.1"/>
<circle cx="223.00" cy="492.77" r="1.85" fill="#fff" stroke="#000" stroke-width="2.1"/>
<circle cx="225.00" cy="493.27" r="1.85" fill="#fff" stroke="#000" stroke-width="2.1"/>
<circle cx="227.00" cy="493.76" r="1.85" fill="#fff" stroke="#000" stroke-width="2.1"/>
<circle cx="229.00" cy="494.24" r="1.85" fill="#fff" stroke="#000" stroke-width="2.1"/>
<circle cx="231.00" cy="494.72" r="1.85" fill="#fff" stroke="#000" stroke-width="2.1"/>
<circle cx="233.00" cy="495.19" r="1.85" fill="#fff" stroke="#000" stroke-width="2.1"/>
<circle cx="235.00" cy="495.66" r="1.85" fill="#fff" stroke="#000" stroke-width="2.1"/>
<circle cx="237.00" cy="496.12" r="1.85" fill="#fff" stroke="#000" stroke-width="2.1"/>
<circle cx="239.00" cy="496.58" r="1.85" fill="#fff" stroke="#000" stroke-width="2.1"/>
<circle cx="241.00" cy="497.03" r="1.85" fill="#fff" stroke="#000" stroke-width="2.1"/>
<circle cx="243.00" cy="497.47" r="1.85" fill="#fff" stroke="#000" stroke-width="2.1"/>
<circle cx="245.00" cy="497.91" r="1.85" fill="#fff" stroke="#000" stroke-width="2.1"/>
<circle cx="247.00" cy="498.35" r="1.85" fill="#fff" stroke="#000" stroke-width="2.1"/>
<circle cx="249.00" cy="498.77" r="1.85" fill="#fff" stroke="#000" stroke-width="2.1"/>
<circle cx="251.00" cy="499.20" r="1.85" fill="#fff" stroke="#000" stroke-width="2.1"/>
<circle cx="253.00" cy="499.62" r="1.85" fill="#fff" stroke="#000" stroke-width="2.1"/>
<circle cx="255.00" cy="500.03" r="1.85" fill="#fff" stroke="#000" stroke-width="2.1"/>
<circle cx="257.00" cy="500.44" r="1.85" fill="#fff" stroke="#000" stroke-width="2.1"/>
<circle cx="259.00" cy="500.84" r="1.85" fill="#fff" stroke="#000" stroke-width="2.1"/>
<circle cx="261.00" cy="501.24" r="1.85" fill="#fff" stroke="#000" stroke-width="2.1"/>
<circle cx="263.00" cy="501.64" r="1.85" fill="#fff" stroke="#000" stroke-width="2.1"/>
<circle cx="265.00" cy="502.03" r="1.85" fill="#fff" stroke="#000" stroke-width="2.1"/>
<circle cx="267.00" cy="502.41" r="1.85" fill="#fff" stroke="#000" stroke-width="2.1"/>
<circle cx="269.00" cy="502.79" r="1.85" fill="#fff" stroke="#000" stroke-width="2.1"/>
<circle cx="271.00" cy="503.17" r="1.85" fill="#fff" stroke="#000" stroke-width="2.1"/>
<circle cx="273.00" cy="503.54" r="1.85" fill="#fff" stroke="#000" stroke-width="2.1"/>
<circle cx="275.00" cy="503.91" r="1.85" fill="#fff" stroke="#000" stroke-width="2.1"/>
<circle cx="277.00" cy="504.27" r="1.85" fill="#fff" stroke="#000" stroke-width="2.1"/>
<circle cx="279.00" cy="504.63" r="1.85" fill="#fff" stroke="#000" stroke-width="2.1"/>
<circle cx="281.00" cy="504.98" r="1.85" fill="#fff" stroke="#000" stroke-width="2.1"/>
<circle cx="283.00" cy="505.33" r="1.85" fill="#fff" stroke="#000" stroke-width="2.1"/>
<circle cx="285.00" cy="505.68" r="1.85" fill="#fff" stroke="#000" stroke-width="2.1"/>
<circle cx="287.00" cy="506.02" r="1.85" fill="#fff" stroke="#000" stroke-width="2.1"/>
<circle cx="289.00" cy="506.36" r="1.85" fill="#fff" stroke="#000" stroke-width="2.1"/>
<circle cx="291.00" cy="506.69" r="1.85" fill="#fff" stroke="#000" stroke-width="2.1"/>
<circle cx="293.00" cy="507.02" r="1.85" fill="#fff" stroke="#000" stroke-width="2.1"/>
<circle cx="295.00" cy="507.35" r="1.85" fill="#fff" stroke="#000" stroke-width="2.1"/>
<circle cx="297.00" cy="507.67" r="1.85" fill="#fff" stroke="#000" stroke-width="2.1"/>
<circle cx="299.00" cy="507.99" r="1.85" fill="#fff" stroke="#000" stroke-width="2.1"/>
<circle cx="301.00" cy="508.31" r="1.85" fill="#fff" stroke="#000" stroke-width="2.1"/>
<circle cx="303.00" cy="508.62" r="1.85" fill="#fff" stroke="#000" stroke-width="2.1"/>
<circle cx="305.00" cy="508.93" r="1.85" fill="#fff" stroke="#000" stroke-width="2.1"/>
<circle cx="307.00" cy="509.23" r="1.85" fill="#fff" stroke="#000" stroke-width="2.1"/>
<circle cx="309.00" cy="509.53" r="1.85" fill="#fff" stroke="#000" stroke-width="2.1"/>
<circle cx="311.00" cy="509.83" r="1.85" fill="#fff" stroke="#000" stroke-width="2.1"/>
<circle cx="313.00" cy="510.13" r="1.85" fill="#fff" stroke="#000" stroke-width="2.1"/>
<circle cx="315.00" cy="510.42" r="1.85" fill="#fff" stroke="#000" stroke-width="2.1"/>
<circle cx="317.00" cy="510.71" r="1.85" fill="#fff" stroke="#000" stroke-width="2.1"/>
<circle cx="319.00" cy="510.99" r="1.85" fill="#fff" stroke="#000" stroke-width="2.1"/>
<circle cx="321.00" cy="511.27" r="1.85" fill="#fff" stroke="#000" stroke-width="2.1"/>
<circle cx="323.00" cy="511.55" r="1.85" fill="#fff" stroke="#000" stroke-width="2.1"/>
<circle cx="325.00" cy="511.83" r="1.85" fill="#fff" stroke="#000" stroke-width="2.1"/>
<circle cx="327.00" cy="512.10" r="1.85" fill="#fff" stroke="#000" stroke-width="2.1"/>
<circle cx="329.00" cy="512.37" r="1.85" fill="#fff" stroke="#000" stroke-width="2.1"/>
<circle cx="331.00" cy="512.64" r="1.85" fill="#fff" stroke="#000" stroke-width="2.1"/>
<circle cx="333.00" cy="512.90" r="1.85" fill="#fff" stroke="#000" stroke-width="2.1"/>
<circle cx="335.00" cy="513.16" r="1.85" fill="#fff" stroke="#000" stroke-width="2.1"/>
<circle cx="337.00" cy="513.42" r="1.85" fill="#fff" stroke="#000" stroke-width="2.1"/>
<circle cx="339.00" cy="513.68" r="1.85" fill="#fff" stroke="#000" stroke-width="2.1"/>
<circle cx="341.00" cy="513.93" r="1.85" fill="#fff" stroke="#000" stroke-width="2.1"/>
<circle cx="343.00" cy="514.18" r="1.85" fill="#fff" stroke="#000" stroke-width="2.1"/>
<circle cx="345.00" cy="514.43" r="1.85" fill="#fff" stroke="#000" stroke-width="2.1"/>
<circle cx="347.00" cy="514.67" r="1.85" fill="#fff" stroke="#000" stroke-width="2.1"/>
<circle cx="349.00" cy="514.91" r="1.85" fill="#fff" stroke="#000" stroke-width="2.1"/>
<circle cx="351.00" cy="515.15" r="1.85" fill="#fff" stroke="#000" stroke-width="2.1"/>
<circle cx="353.00" cy="515.39" r="1.85" fill="#fff" stroke="#000" stroke-width="2.1"/>
<circle cx="355.00" cy="515.62" r="1.85" fill="#fff" stroke="#000" stroke-width="2.1"/>
<circle cx="357.00" cy="515.85" r="1.85" fill="#fff" stroke="#000" stroke-width="2.1"/>
<circle cx="359.00" cy="516.08" r="1.85" fill="#fff" stroke="#000" stroke-width="2.1"/>
<circle cx="361.00" cy="516.31" r="1.85" fill="#fff" stroke="#000" stroke-width="2.1"/>
<circle cx="363.00" cy="516.54" r="1.85" fill="#fff" stroke="#000" stroke-width="2.1"/>
<circle cx="365.00" cy="516.76" r="1.85" fill="#fff" stroke="#000" stroke-width="2.1"/>
<circle cx="367.00" cy="516.98" r="1.85" fill="#fff" stroke="#000" stroke-width="2.1"/>
<circle cx="369.00" cy="517.20" r="1.85" fill="#fff" stroke="#000" stroke-width="2.1"/>
<circle cx="371.00" cy="517.41" r="1.85" fill="#fff" stroke="#000" stroke-width="2.1"/>
<circle cx="373.00" cy="517.62" r="1.85" fill="#fff" stroke="#000" stroke-width="2.1"/>
<circle cx="375.00" cy="517.84" r="1.85" fill="#fff" stroke="#000" stroke-width="2.1"/>
<circle cx="377.00" cy="518.05" r="1.85" fill="#fff" stroke="#000" stroke-width="2.1"/>
<circle cx="379.00" cy="518.25" r="1.85" fill="#fff" stroke="#000" stroke-width="2.1"/>
<circle cx="381.00" cy="518.46" r="1.85" fill="#fff" stroke="#000" stroke-width="2.1"/>
<circle cx="383.00" cy="518.66" r="1.85" fill="#fff" stroke="#000" stroke-width="2.1"/>
<circle cx="385.00" cy="518.86" r="1.85" fill="#fff" stroke="#000" stroke-width="2.1"/>
<circle cx="387.00" cy="519.06" r="1.85" fill="#fff" stroke="#000" stroke-width="2.1"/>
<circle cx="389.00" cy="519.26" r="1.85" fill="#fff" stroke="#000" stroke-width="2.1"/>
<circle cx="391.00" cy="519.45" r="1.85" fill="#fff" stroke="#000" stroke-width="2.1"/>
<circle cx="393.00" cy="519.64" r="1.85" fill="#fff" stroke="#000" stroke-width="2.1"/>
<circle cx="395.00" cy="519.83" r="1.85" fill="#fff" stroke="#000" stroke-width="2.1"/>
<circle cx="397.00" cy="520.02" r="1.85" fill="#fff" stroke="#000" stroke-width="2.1"/>
<circle cx="399.00" cy="520.21" r="1.85" fill="#fff" stroke="#000" stroke-width="2.1"/>
<circle cx="401.00" cy="520.40" r="1.85" fill="#fff" stroke="#000" stroke-width="2.1"/>
<circle cx="403.00" cy="520.58" r="1.85" fill="#fff" stroke="#000" stroke-width="2.1"/>
<circle cx="405.00" cy="520.76" r="1.85" fill="#fff" stroke="#000" stroke-width="2.1"/>
<circle cx="407.00" cy="520.94" r="1.85" fill="#fff" stroke="#000" stroke-width="2.1"/>
<circle cx="409.00" cy="521.12" r="1.85" fill="#fff" stroke="#000" stroke-width="2.1"/>
<circle cx="411.00" cy="521.30" r="1.85" fill="#fff" stroke="#000" stroke-width="2.1"/>
<circle cx="413.00" cy="521.47" r="1.85" fill="#fff" stroke="#000" stroke-width="2.1"/>
<circle cx="415.00" cy="521.65" r="1.85" fill="#fff" stroke="#000" stroke-width="2.1"/>
<circle cx="417.00" cy="521.82" r="1.85" fill="#fff" stroke="#000" stroke-width="2.1"/>
<circle cx="419.00" cy="521.99" r="1.85" fill="#fff" stroke="#000" stroke-width="2.1"/>
<circle cx="421.00" cy="522.16" r="1.85" fill="#fff" stroke="#000" stroke-width="2.1"/>
<circle cx="423.00" cy="522.32" r="1.85" fill="#fff" stroke="#000" stroke-width="2.1"/>
<circle cx="425.00" cy="522.49" r="1.85" fill="#fff" stroke="#000" stroke-width="2.1"/>
<circle cx="427.00" cy="522.65" r="1.85" fill="#fff" stroke="#000" stroke-width="2.1"/>
<circle cx="429.00" cy="522.82" r="1.85" fill="#fff" stroke="#000" stroke-width="2.1"/>
<circle cx="431.00" cy="522.98" r="1.85" fill="#fff" stroke="#000" stroke-width="2.1"/>
<circle cx="433.00" cy="523.14" r="1.85" fill="#fff" stroke="#000" stroke-width="2.1"/>
<circle cx="435.00" cy="523.30" r="1.85" fill="#fff" stroke="#000" stroke-width="2.1"/>
<circle cx="437.00" cy="523.45" r="1.85" fill="#fff" stroke="#000" stroke-width="2.1"/>
<circle cx="439.00" cy="523.61" r="1.85" fill="#fff" stroke="#000" stroke-width="2.1"/>
<circle cx="441.00" cy="523.76" r="1.85" fill="#fff" stroke="#000" stroke-width="2.1"/>
<circle cx="443.00" cy="523.91" r="1.85" fill="#fff" stroke="#000" stroke-width="2.1"/>
<circle cx="445.00" cy="524.07" r="1.85" fill="#fff" stroke="#000" stroke-width="2.1"/>
<circle cx="447.00" cy="524.22" r="1.85" fill="#fff" stroke="#000" stroke-width="2.1"/>
<circle cx="449.00" cy="524.36" r="1.85" fill="#fff" stroke="#000" stroke-width="2.1"/>
<circle cx="451.00" cy="524.51" r="1.85" fill="#fff" stroke="#000" stroke-width="2.1"/>
<circle cx="453.00" cy="524.66" r="1.85" fill="#fff" stroke="#000" stroke-width="2.1"/>
<circle cx="455.00" cy="524.80" r="1.85" fill="#fff" stroke="#000" stroke-width="2.1"/>
<circle cx="457.00" cy="524.95" r="1.85" fill="#fff" stroke="#000" stroke-width="2.1"/>
<circle cx="459.00" cy="525.09" r="1.85" fill="#fff" stroke="#000" stroke-width="2.1"/>
<circle cx="461.00" cy="525.23" r="1.85" fill="#fff" stroke="#000" stroke-width="2.1"/>
<circle cx="463.00" cy="525.37" r="1.85" fill="#fff" stroke="#000" stroke-width="2.1"/>
<circle cx="465.00" cy="525.51" r="1.85" fill="#fff" stroke="#000" stroke-width="2.1"/>
<circle cx="467.00" cy="525.65" r="1.85" fill="#fff" stroke="#000" stroke-width="2.1"/>
<circle cx="469.00" cy="525.78" r="1.85" fill="#fff" stroke="#000" stroke-width="2.1"/>
<circle cx="471.00" cy="525.92" r="1.85" fill="#fff" stroke="#000" stroke-width="2.1"/>
<circle cx="473.00" cy="526.05" r="1.85" fill="#fff" stroke="#000" stroke-width="2.1"/>
<circle cx="475.00" cy="526.19" r="1.85" fill="#fff" stroke="#000" stroke-width="2.1"/>
<circle cx="477.00" cy="526.32" r="1.85" fill="#fff" stroke="#000" stroke-width="2.1"/>
<circle cx="479.00" cy="526.45" r="1.85" fill="#fff" stroke="#000" stroke-width="2.1"/>
<circle cx="481.00" cy="526.58" r="1.85" fill="#fff" stroke="#000" stroke-width="2.1"/>
<circle cx="483.00" cy="526.71" r="1.85" fill="#fff" stroke="#000" stroke-width="2.1"/>
<circle cx="485.00" cy="526.84" r="1.85" fill="#fff" stroke="#000" stroke-width="2.1"/>
<circle cx="487.00" cy="526.97" r="1.85" fill="#fff" stroke="#000" stroke-width="2.1"/>
<circle cx="489.00" cy="527.09" r="1.85" fill="#fff" stroke="#000" stroke-width="2.1"/>
<circle cx="491.00" cy="527.22" r="1.85" fill="#fff" stroke="#000" stroke-width="2.1"/>
<circle cx="493.00" cy="527.34" r="1.85" fill="#fff" stroke="#000" stroke-width="2.1"/>
<circle cx="495.00" cy="527.47" r="1.85" fill="#fff" stroke="#000" stroke-width="2.1"/>
<circle cx="497.00" cy="527.59" r="1.85" fill="#fff" stroke="#000" stroke-width="2.1"/>
<circle cx="499.00" cy="527.71" r="1.85" fill="#fff" stroke="#000" stroke-width="2.1"/>
<circle cx="501.00" cy="527.83" r="1.85" fill="#fff" stroke="#000" stroke-width="2.1"/>
<circle cx="503.00" cy="527.95" r="1.85" fill="#fff" stroke="#000" stroke-width="2.1"/>
<circle cx="505.00" cy="528.07" r="1.85" fill="#fff" stroke="#000" stroke-width="2.1"/>
<circle cx="507.00" cy="528.19" r="1.85" fill="#fff" stroke="#000" stroke-width="2.1"/>
<circle cx="509.00" cy="528.30" r="1.85" fill="#fff" stroke="#000" stroke-width="2.1"/>
<circle cx="511.00" cy="528.42" r="1.85" fill="#fff" stroke="#000" stroke-width="2.1"/>
<circle cx="513.00" cy="528.54" r="1.85" fill="#fff" stroke="#000" stroke-width="2.1"/>
<circle cx="515.00" cy="528.65" r="1.85" fill="#fff" stroke="#000" stroke-width="2.1"/>
<circle cx="517.00" cy="528.76" r="1.85" fill="#fff" stroke="#000" stroke-width="2.1"/>
<circle cx="519.00" cy="528.88" r="1.85" fill="#fff" stroke="#000" stroke-width="2.1"/>
<circle cx="521.00" cy="528.99" r="1.85" fill="#fff" stroke="#000" stroke-width="2.1"/>
<circle cx="523.00" cy="529.10" r="1.85" fill="#fff" stroke="#000" stroke-width="2.1"/>
<circle cx="525.00" cy="529.21" r="1.85" fill="#fff" stroke="#000" stroke-width="2.1"/>
<circle cx="527.00" cy="529.32" r="1.85" fill="#fff" stroke="#000" stroke-width="2.1"/>
<circle cx="529.00" cy="529.43" r="1.85" fill="#fff" stroke="#000" stroke-width="2.1"/>
<circle cx="531.00" cy="529.54" r="1.85" fill="#fff" stroke="#000" stroke-width="2.1"/>
<circle cx="533.00" cy="529.65" r="1.85" fill="#fff" stroke="#000" stroke-width="2.1"/>
<circle cx="535.00" cy="529.75" r="1.85" fill="#fff" stroke="#000" stroke-width="2.1"/>
<circle cx="537.00" cy="529.86" r="1.85" fill="#fff" stroke="#000" stroke-width="2.1"/>
<circle cx="539.00" cy="529.97" r="1.85" fill="#fff" stroke="#000" stroke-width="2.1"/>
<circle cx="541.00" cy="530.07" r="1.85" fill="#fff" stroke="#000" stroke-width="2.1"/>
<circle cx="543.00" cy="530.18" r="1.85" fill="#fff" stroke="#000" stroke-width="2.1"/>
<circle cx="545.00" cy="530.28" r="1.85" fill="#fff" stroke="#000" stroke-width="2.1"/>
<circle cx="547.00" cy="530.38" r="1.85" fill="#fff" stroke="#000" stroke-width="2.1"/>
<circle cx="549.00" cy="530.48" r="1.85" fill="#fff" stroke="#000" stroke-width="2.1"/>
<circle cx="551.00" cy="530.59" r="1.85" fill="#fff" stroke="#000" stroke-width="2.1"/>
<circle cx="553.00" cy="530.69" r="1.85" fill="#fff" stroke="#000" stroke-width="2.1"/>
<circle cx="555.00" cy="530.79" r="1.85" fill="#fff" stroke="#000" stroke-width="2.1"/>
<circle cx="557.00" cy="530.89" r="1.85" fill="#fff" stroke="#000" stroke-width="2.1"/>
<circle cx="559.00" cy="530.99" r="1.85" fill="#fff" stroke="#000" stroke-width="2.1"/>
<circle cx="561.00" cy="531.08" r="1.85" fill="#fff" stroke="#000" stroke-width="2.1"/>
<circle cx="563.00" cy="531.18" r="1.85" fill="#fff" stroke="#000" stroke-width="2.1"/>
<circle cx="565.00" cy="531.28" r="1.85" fill="#fff" stroke="#000" stroke-width="2.1"/>
<circle cx="567.00" cy="531.38" r="1.85" fill="#fff" stroke="#000" stroke-width="2.1"/>
<circle cx="569.00" cy="531.47" r="1.85" fill="#fff" stroke="#000" stroke-width="2.1"/>
<circle cx="571.00" cy="531.57" r="1.85" fill="#fff" stroke="#000" stroke-width="2.1"/>
<circle cx="573.00" cy="531.66" r="1.85" fill="#fff" stroke="#000" stroke-width="2.1"/>
<circle cx="575.00" cy="531.76" r="1.85" fill="#fff" stroke="#000" stroke-width="2.1"/>
<circle cx="577.00" cy="531.85" r="1.85" fill="#fff" stroke="#000" stroke-width="2.1"/>
<circle cx="579.00" cy="531.95" r="1.85" fill="#fff" stroke="#000" stroke-width="2.1"/>
<circle cx="581.00" cy="532.04" r="1.85" fill="#fff" stroke="#000" stroke-width="2.1"/>
<circle cx="583.00" cy="532.13" r="1.85" fill="#fff" stroke="#000" stroke-width="2.1"/>
<circle cx="585.00" cy="532.22" r="1.85" fill="#fff" stroke="#000" stroke-width="2.1"/>
<circle cx="587.00" cy="532.32" r="1.85" fill="#fff" stroke="#000" stroke-width="2.1"/>
<circle cx="589.00" cy="532.41" r="1.85" fill="#fff" stroke="#000" stroke-width="2.1"/>
<circle cx="591.00" cy="532.50" r="1.85" fill="#fff" stroke="#000" stroke-width="2.1"/>
<circle cx="593.00" cy="532.59" r="1.85" fill="#fff" stroke="#000" stroke-width="2.1"/>
<circle cx="97.00" cy="478.28" r="0.5" fill="#777"/>
<circle cx="99.00" cy="478.36" r="0.5" fill="#777"/>
<circle cx="101.00" cy="478.44" r="0.5" fill="#777"/>
<circle cx="103.00" cy="478.52" r="0.5" fill="#777"/>
<circle cx="105.00" cy="478.60" r="0.5" fill="#777"/>
<circle cx="107.00" cy="478.68" r="0.5" fill="#777"/>
<circle cx="109.00" cy="478.76" r="0.5" fill="#777"/>
<circle cx="111.00" cy="478.84" r="0.5" fill="#777"/>
<circle cx="113.00" cy="478.92" r="0.5" fill="#777"/>
<circle cx="115.00" cy="479.00" r="0.5" fill="#777"/>
<circle cx="117.00" cy="479.09" r="0.5" fill="#777"/>
<circle cx="119.00" cy="479.17" r="0.5" fill="#777"/>
<circle cx="121.00" cy="479.26" r="0.5" fill="#777"/>
<circle cx="123.00" cy="479.35" r="0.5" fill="#777"/>
<circle cx="125.00" cy="479.43" r="0.5" fill="#777"/>
<circle cx="127.00" cy="479.52" r="0.5" fill="#777"/>
<circle cx="129.00" cy="479.61" r="0.5" fill="#777"/>
<circle cx="131.00" cy="479.70" r="0.5" fill="#777"/>
<circle cx="133.00" cy="479.78" r="0.5" fill="#777"/>
<circle cx="135.00" cy="479.87" r="0.5" fill="#777"/>
<circle cx="137.00" cy="479.96" r="0.5" fill="#777"/>
<circle cx="139.00" cy="480.04" r="0.5" fill="#777"/>
<circle cx="141.00" cy="480.13" r="0.5" fill="#777"/>
<circle cx="143.00" cy="480.22" r="0.5" fill="#777"/>
<circle cx="145.00" cy="480.31" r="0.5" fill="#777"/>
<circle cx="147.00" cy="480.39" r="0.5" fill="#777"/>
<circle cx="149.00" cy="480.48" r="0.5" fill="#777"/>
<circle cx="151.00" cy="480.57" r="0.5" fill="#777"/>
<circle cx="153.00" cy="480.66" r="0.5" fill="#777"/>
<circle cx="155.00" cy="480.74" r="0.5" fill="#777"/>
<circle cx="157.00" cy="480.83" r="0.5" fill="#777"/>
<circle cx="159.00" cy="480.92" r="0.5" fill="#777"/>
<circle cx="161.00" cy="481.01" r="0.5" fill="#777"/>
<circle cx="163.00" cy="481.09" r="0.5" fill="#777"/>
<circle cx="165.00" cy="481.18" r="0.5" fill="#777"/>
<circle cx="167.00" cy="481.27" r="0.5" fill="#777"/>
<circle cx="169.00" cy="481.36" r="0.5" fill="#777"/>
<circle cx="171.00" cy="481.46" r="0.5" fill="#777"/>
<circle cx="173.00" cy="481.58" r="0.5" fill="#777"/>
<circle cx="175.00" cy="481.70" r="0.5" fill="#777"/>
<circle cx="177.00" cy="481.82" r="0.5" fill="#777"/>
<circle cx="179.00" cy="481.95" r="0.5" fill="#777"/>
<circle cx="181.00" cy="482.07" r="0.5" fill="#777"/>
<circle cx="183.00" cy="482.19" r="0.5" fill="#777"/>
<circle cx="185.00" cy="482.31" r="0.5" fill="#777"/>
<circle cx="187.00" cy="482.69" r="0.5" fill="#777"/>
<circle cx="189.00" cy="483.31" r="0.5" fill="#777"/>
<circle cx="191.00" cy="483.92" r="0.5" fill="#777"/>
<circle cx="193.00" cy="484.53" r="0.5" fill="#777"/>
<circle cx="195.00" cy="485.13" r="0.5" fill="#777"/>
<circle cx="197.00" cy="485.72" r="0.5" fill="#777"/>
<circle cx="199.00" cy="486.30" r="0.5" fill="#777"/>
<circle cx="201.00" cy="486.88" r="0.5" fill="#777"/>
<circle cx="203.00" cy="487.45" r="0.5" fill="#777"/>
<circle cx="205.00" cy="488.01" r="0.5" fill="#777"/>
<circle cx="207.00" cy="488.57" r="0.5" fill="#777"/>
<circle cx="209.00" cy="489.12" r="0.5" fill="#777"/>
<circle cx="211.00" cy="489.66" r="0.5" fill="#777"/>
<circle cx="213.00" cy="490.19" r="0.5" fill="#777"/>
<circle cx="215.00" cy="490.72" r="0.5" fill="#777"/>
<circle cx="217.00" cy="491.24" r="0.5" fill="#777"/>
<circle cx="219.00" cy="491.76" r="0.5" fill="#777"/>
<circle cx="221.00" cy="492.27" r="0.5" fill="#777"/>
<circle cx="223.00" cy="492.77" r="0.5" fill="#777"/>
<circle cx="225.00" cy="493.27" r="0.5" fill="#777"/>
<circle cx="227.00" cy="493.76" r="0.5" fill="#777"/>
<circle cx="229.00" cy="494.24" r="0.5" fill="#777"/>
<circle cx="231.00" cy="494.72" r="0.5" fill="#777"/>
<circle cx="233.00" cy="495.19" r="0.5" fill="#777"/>
<circle cx="235.00" cy="495.66" r="0.5" fill="#777"/>
<circle cx="237.00" cy="496.12" r="0.5" fill="#777"/>
<circle cx="239.00" cy="496.58" r="0.5" fill="#777"/>
<circle cx="241.00" cy="497.03" r="0.5" fill="#777"/>
<circle cx="243.00" cy="497.47" r="0.5" fill="#777"/>
<circle cx="245.00" cy="497.91" r="0.5" fill="#777"/>
<circle cx="247.00" cy="498.35" r="0.5" fill="#777"/>
<circle cx="249.00" cy="498.77" r="0.5" fill="#777"/>
<circle cx="251.00" cy="499.20" r="0.5" fill="#777"/>
<circle cx="253.00" cy="499.62" r="0.5" fill="#777"/>
<circle cx="255.00" cy="500.03" r="0.5" fill="#777"/>
<circle cx="257.00" cy="500.44" r="0.5" fill="#777"/>
<circle cx="259.00" cy="500.84" r="0.5" fill="#777"/>
<circle cx="261.00" cy="501.24" r="0.5" fill="#777"/>
<circle cx="263.00" cy="501.64" r="0.5" fill="#777"/>
<circle cx="265.00" cy="502.03" r="0.5" fill="#777"/>
<circle cx="267.00" cy="502.41" r="0.5" fill="#777"/>
<circle cx="269.00" cy="502.79" r="0.5" fill="#777"/>
<circle cx="271.00" cy="503.17" r="0.5" fill="#777"/>
<circle cx="273.00" cy="503.54" r="0.5" fill="#777"/>
<circle cx="275.00" cy="503.91" r="0.5" fill="#777"/>
<circle cx="277.00" cy="504.27" r="0.5" fill="#777"/>
<circle cx="279.00" cy="504.63" r="0.5" fill="#777"/>
<circle cx="281.00" cy="504.98" r="0.5" fill="#777"/>
<circle cx="283.00" cy="505.33" r="0.5" fill="#777"/>
<circle cx="285.00" cy="505.68" r="0.5" fill="#777"/>
<circle cx="287.00" cy="506.02" r="0.5" fill="#777"/>
<circle cx="289.00" cy="506.36" r="0.5" fill="#777"/>
<circle cx="291.00" cy="506.69" r="0.5" fill="#777"/>
<circle cx="293.00" cy="507.02" r="0.5" fill="#777"/>
<circle cx="295.00" cy="507.35" r="0.5" fill="#777"/>
<circle cx="297.00" cy="507.67" r="0.5" fill="#777"/>
<circle cx="299.00" cy="507.99" r="0.5" fill="#777"/>
<circle cx="301.00" cy="508.31" r="0.5" fill="#777"/>
<circle cx="303.00" cy="508.62" r="0.5" fill="#777"/>
<circle cx="305.00" cy="508.93" r="0.5" fill="#777"/>
<circle cx="307.00" cy="509.23" r="0.5" fill="#777"/>
<circle cx="309.00" cy="509.53" r="0.5" fill="#777"/>
<circle cx="311.00" cy="509.83" r="0.5" fill="#777"/>
<circle cx="313.00" cy="510.13" r="0.5" fill="#777"/>
<circle cx="315.00" cy="510.42" r="0.5" fill="#777"/>
<circle cx="317.00" cy="510.71" r="0.5" fill="#777"/>
<circle cx="319.00" cy="510.99" r="0.5" fill="#777"/>
<circle cx="321.00" cy="511.27" r="0.5" fill="#777"/>
<circle cx="323.00" cy="511.55" r="0.5" fill="#777"/>
<circle cx="325.00" cy="511.83" r="0.5" fill="#777"/>
<circle cx="327.00" cy="512.10" r="0.5" fill="#777"/>
<circle cx="329.00" cy="512.37" r="0.5" fill="#777"/>
<circle cx="331.00" cy="512.64" r="0.5" fill="#777"/>
<circle cx="333.00" cy="512.90" r="0.5" fill="#777"/>
<circle cx="335.00" cy="513.16" r="0.5" fill="#777"/>
<circle cx="337.00" cy="513.42" r="0.5" fill="#777"/>
<circle cx="339.00" cy="513.68" r="0.5" fill="#777"/>
<circle cx="341.00" cy="513.93" r="0.5" fill="#777"/>
<circle cx="343.00" cy="514.18" r="0.5" fill="#777"/>
<circle cx="345.00" cy="514.43" r="0.5" fill="#777"/>
<circle cx="347.00" cy="514.67" r="0.5" fill="#777"/>
<circle cx="349.00" cy="514.91" r="0.5" fill="#777"/>
<circle cx="351.00" cy="515.15" r="0.5" fill="#777"/>
<circle cx="353.00" cy="515.39" r="0.5" fill="#777"/>
<circle cx="355.00" cy="515.62" r="0.5" fill="#777"/>
<circle cx="357.00" cy="515.85" r="0.5" fill="#777"/>
<circle cx="359.00" cy="516.08" r="0.5" fill="#777"/>
<circle cx="361.00" cy="516.31" r="0.5" fill="#777"/>
<circle cx="363.00" cy="516.54" r="0.5" fill="#777"/>
<circle cx="365.00" cy="516.76" r="0.5" fill="#777"/>
<circle cx="367.00" cy="516.98" r="0.5" fill="#777"/>
<circle cx="369.00" cy="517.20" r="0.5" fill="#777"/>
<circle cx="371.00" cy="517.41" r="0.5" fill="#777"/>
<circle cx="373.00" cy="517.62" r="0.5" fill="#777"/>
<circle cx="375.00" cy="517.84" r="0.5" fill="#777"/>
<circle cx="377.00" cy="518.05" r="0.5" fill="#777"/>
<circle cx="379.00" cy="518.25" r="0.5" fill="#777"/>
<circle cx="381.00" cy="518.46" r="0.5" fill="#777"/>
<circle cx="383.00" cy="518.66" r="0.5" fill="#777"/>
<circle cx="385.00" cy="518.86" r="0.5" fill="#777"/>
<circle cx="387.00" cy="519.06" r="0.5" fill="#777"/>
<circle cx="389.00" cy="519.26" r="0.5" fill="#777"/>
<circle cx="391.00" cy="519.45" r="0.5" fill="#777"/>
<circle cx="393.00" cy="519.64" r="0.5" fill="#777"/>
<circle cx="395.00" cy="519.83" r="0.5" fill="#777"/>
<circle cx="397.00" cy="520.02" r="0.5" fill="#777"/>
<circle cx="399.00" cy="520.21" r="0.5" fill="#777"/>
<circle cx="401.00" cy="520.40" r="0.5" fill="#777"/>
<circle cx="403.00" cy="520.58" r="0.5" fill="#777"/>
<circle cx="405.00" cy="520.76" r="0.5" fill="#777"/>
<circle cx="407.00" cy="520.94" r="0.5" fill="#777"/>
<circle cx="409.00" cy="521.12" r="0.5" fill="#777"/>
<circle cx="411.00" cy="521.30" r="0.5" fill="#777"/>
<circle cx="413.00" cy="521.47" r="0.5" fill="#777"/>
<circle cx="415.00" cy="521.65" r="0.5" fill="#777"/>
<circle cx="417.00" cy="521.82" r="0.5" fill="#777"/>
<circle cx="419.00" cy="521.99" r="0.5" fill="#777"/>
<circle cx="421.00" cy="522.16" r="0.5" fill="#777"/>
<circle cx="423.00" cy="522.32" r="0.5" fill="#777"/>
<circle cx="425.00" cy="522.49" r="0.5" fill="#777"/>
<circle cx="427.00" cy="522.65" r="0.5" fill="#777"/>
<circle cx="429.00" cy="522.82" r="0.5" fill="#777"/>
<circle cx="431.00" cy="522.98" r="0.5" fill="#777"/>
<circle cx="433.00" cy="523.14" r="0.5" fill="#777"/>
<circle cx="435.00" cy="523.30" r="0.5" fill="#777"/>
<circle cx="437.00" cy="523.45" r="0.5" fill="#777"/>
<circle cx="439.00" cy="523.61" r="0.5" fill="#777"/>
<circle cx="441.00" cy="523.76" r="0.5" fill="#777"/>
<circle cx="443.00" cy="523.91" r="0.5" fill="#777"/>
<circle cx="445.00" cy="524.07" r="0.5" fill="#777"/>
<circle cx="447.00" cy="524.22" r="0.5" fill="#777"/>
<circle cx="449.00" cy="524.36" r="0.5" fill="#777"/>
<circle cx="451.00" cy="524.51" r="0.5" fill="#777"/>
<circle cx="453.00" cy="524.66" r="0.5" fill="#777"/>
<circle cx="455.00" cy="524.80" r="0.5" fill="#777"/>
<circle cx="457.00" cy="524.95" r="0.5" fill="#777"/>
<circle cx="459.00" cy="525.09" r="0.5" fill="#777"/>
<circle cx="461.00" cy="525.23" r="0.5" fill="#777"/>
<circle cx="463.00" cy="525.37" r="0.5" fill="#777"/>
<circle cx="465.00" cy="525.51" r="0.5" fill="#777"/>
<circle cx="467.00" cy="525.65" r="0.5" fill="#777"/>
<circle cx="469.00" cy="525.78" r="0.5" fill="#777"/>
<circle cx="471.00" cy="525.92" r="0.5" fill="#777"/>
<circle cx="473.00" cy="526.05" r="0.5" fill="#777"/>
<circle cx="475.00" cy="526.19" r="0.5" fill="#777"/>
<circle cx="477.00" cy="526.32" r="0.5" fill="#777"/>
<circle cx="479.00" cy="526.45" r="0.5" fill="#777"/>
<circle cx="481.00" cy="526.58" r="0.5" fill="#777"/>
<circle cx="483.00" cy="526.71" r="0.5" fill="#777"/>
<circle cx="485.00" cy="526.84" r="0.5" fill="#777"/>
<circle cx="487.00" cy="526.97" r="0.5" fill="#777"/>
<circle cx="489.00" cy="527.09" r="0.5" fill="#777"/>
<circle cx="491.00" cy="527.22" r="0.5" fill="#777"/>
<circle cx="493.00" cy="527.34" r="0.5" fill="#777"/>
<circle cx="495.00" cy="527.47" r="0.5" fill="#777"/>
<circle cx="497.00" cy="527.59" r="0.5" fill="#777"/>
<circle cx="499.00" cy="527.71" r="0.5" fill="#777"/>
<circle cx="501.00" cy="527.83" r="0.5" fill="#777"/>
<circle cx="503.00" cy="527.95" r="0.5" fill="#777"/>
<circle cx="505.00" cy="528.07" r="0.5" fill="#777"/>
<circle cx="507.00" cy="528.19" r="0.5" fill="#777"/>
<circle cx="509.00" cy="528.30" r="0.5" fill="#777"/>
<circle cx="511.00" cy="528.42" r="0.5" fill="#777"/>
<circle cx="513.00" cy="528.54" r="0.5" fill="#777"/>
<circle cx="515.00" cy="528.65" r="0.5" fill="#777"/>
<circle cx="517.00" cy="528.76" r="0.5" fill="#777"/>
<circle cx="519.00" cy="528.88" r="0.5" fill="#777"/>
<circle cx="521.00" cy="528.99" r="0.5" fill="#777"/>
<circle cx="523.00" cy="529.10" r="0.5" fill="#777"/>
<circle cx="525.00" cy="529.21" r="0.5" fill="#777"/>
<circle cx="527.00" cy="529.32" r="0.5" fill="#777"/>
<circle cx="529.00" cy="529.43" r="0.5" fill="#777"/>
<circle cx="531.00" cy="529.54" r="0.5" fill="#777"/>
<circle cx="533.00" cy="529.65" r="0.5" fill="#777"/>
<circle cx="535.00" cy="529.75" r="0.5" fill="#777"/>
<circle cx="537.00" cy="529.86" r="0.5" fill="#777"/>
<circle cx="539.00" cy="529.97" r="0.5" fill="#777"/>
<circle cx="541.00" cy="530.07" r="0.5" fill="#777"/>
<circle cx="543.00" cy="530.18" r="0.5" fill="#777"/>
<circle cx="545.00" cy="530.28" r="0.5" fill="#777"/>
<circle cx="547.00" cy="530.38" r="0.5" fill="#777"/>
<circle cx="549.00" cy="530.48" r="0.5" fill="#777"/>
<circle cx="551.00" cy="530.59" r="0.5" fill="#777"/>
<circle cx="553.00" cy="530.69" r="0.5" fill="#777"/>
<circle cx="555.00" cy="530.79" r="0.5" fill="#777"/>
<circle cx="557.00" cy="530.89" r="0.5" fill="#777"/>
<circle cx="559.00" cy="530.99" r="0.5" fill="#777"/>
<circle cx="561.00" cy="531.08" r="0.5" fill="#777"/>
<circle cx="563.00" cy="531.18" r="0.5" fill="#777"/>
<circle cx="565.00" cy="531.28" r="0.5" fill="#777"/>
<circle cx="567.00" cy="531.38" r="0.5" fill="#777"/>
<circle cx="569.00" cy="531.47" r="0.5" fill="#777"/>
<circle cx="571.00" cy="531.57" r="0.5" fill="#777"/>
<circle cx="573.00" cy="531.66" r="0.5" fill="#777"/>
<circle cx="575.00" cy="531.76" r="0.5" fill="#777"/>
<circle cx="577.00" cy="531.85" r="0.5" fill="#777"/>
<circle cx="579.00" cy="531.95" r="0.5" fill="#777"/>
<circle cx="581.00" cy="532.04" r="0.5" fill="#777"/>
<circle cx="583.00" cy="532.13" r="0.5" fill="#777"/>
<circle cx="585.00" cy="532.22" r="0.5" fill="#777"/>
<circle cx="587.00" cy="532.32" r="0.5" fill="#777"/>
<circle cx="589.00" cy="532.41" r="0.5" fill="#777"/>
<circle cx="591.00" cy="532.50" r="0.5" fill="#777"/>
<circle cx="593.00" cy="532.59" r="0.5" fill="#777"/>
</g>
<rect x="93.20" y="444.40" width="500.00" height="133.10" fill="none" stroke="#000" stroke-width="2.4"/>
<text x="87.50" y="581.80" font-size="12" text-anchor="end">0</text>
<line x1="93.20" y1="547.92" x2="98.20" y2="547.92" stroke="#000" stroke-width="2"/>
<text x="87.50" y="552.22" font-size="12" text-anchor="end">10</text>
<line x1="93.20" y1="518.34" x2="98.20" y2="518.34" stroke="#000" stroke-width="2"/>
<text x="87.50" y="522.64" font-size="12" text-anchor="end">20</text>
<line x1="93.20" y1="488.77" x2="98.20" y2="488.77" stroke="#000" stroke-width="2"/>
<text x="87.50" y="493.07" font-size="12" text-anchor="end">30</text>
<line x1="93.20" y1="459.19" x2="98.20" y2="459.19" stroke="#000" stroke-width="2"/>
<text x="87.50" y="463.49" font-size="12" text-anchor="end">40</text>
<line x1="93.20" y1="562.71" x2="96.20" y2="562.71" stroke="#000" stroke-width="2"/>
<line x1="93.20" y1="533.13" x2="96.20" y2="533.13" stroke="#000" stroke-width="2"/>
<line x1="93.20" y1="503.56" x2="96.20" y2="503.56" stroke="#000" stroke-width="2"/>
<line x1="93.20" y1="473.98" x2="96.20" y2="473.98" stroke="#000" stroke-width="2"/>
<text x="598.50" y="581.80" font-size="12">0</text>
<line x1="593.20" y1="553.30" x2="588.20" y2="553.30" stroke="#000" stroke-width="2"/>
<text x="598.50" y="557.60" font-size="12">20</text>
<line x1="593.20" y1="529.10" x2="588.20" y2="529.10" stroke="#000" stroke-width="2"/>
<text x="598.50" y="533.40" font-size="12">40</text>
<line x1="593.20" y1="504.90" x2="588.20" y2="504.90" stroke="#000" stroke-width="2"/>
<text x="598.50" y="509.20" font-size="12">60</text>
<line x1="593.20" y1="480.70" x2="588.20" y2="480.70" stroke="#000" stroke-width="2"/>
<text x="598.50" y="485.00" font-size="12">80</text>
<line x1="593.20" y1="456.50" x2="588.20" y2="456.50" stroke="#000" stroke-width="2"/>
<text x="598.50" y="460.80" font-size="12">100</text>
<line x1="593.20" y1="565.40" x2="590.20" y2="565.40" stroke="#000" stroke-width="2"/>
<line x1="593.20" y1="541.20" x2="590.20" y2="541.20" stroke="#000" stroke-width="2"/>
<line x1="593.20" y1="517.00" x2="590.20" y2="517.00" stroke="#000" stroke-width="2"/>
<line x1="593.20" y1="492.80" x2="590.20" y2="492.80" stroke="#000" stroke-width="2"/>
<line x1="593.20" y1="468.60" x2="590.20" y2="468.60" stroke="#000" stroke-width="2"/>
<text x="93.20" y="592.70" font-size="12" text-anchor="middle">0</text>
<line x1="143.20" y1="577.50" x2="143.20" y2="572.50" stroke="#000" stroke-width="1.8"/>
<text x="143.20" y="592.70" font-size="12" text-anchor="middle">50</text>
<line x1="193.20" y1="577.50" x2="193.20" y2="572.50" stroke="#000" stroke-width="1.8"/>
<text x="193.20" y="592.70" font-size="12" text-anchor="middle">100</text>
<line x1="243.20" y1="577.50" x2="243.20" y2="572.50" stroke="#000" stroke-width="1.8"/>
<text x="243.20" y="592.70" font-size="12" text-anchor="middle">150</text>
<line x1="293.20" y1="577.50" x2="293.20" y2="572.50" stroke="#000" stroke-width="1.8"/>
<text x="293.20" y="592.70" font-size="12" text-anchor="middle">200</text>
<line x1="343.20" y1="577.50" x2="343.20" y2="572.50" stroke="#000" stroke-width="1.8"/>
<text x="343.20" y="592.70" font-size="12" text-anchor="middle">250</text>
<line x1="393.20" y1="577.50" x2="393.20" y2="572.50" stroke="#000" stroke-width="1.8"/>
<text x="393.20" y="592.70" font-size="12" text-anchor="middle">300</text>
<line x1="443.20" y1="577.50" x2="443.20" y2="572.50" stroke="#000" stroke-width="1.8"/>
<text x="443.20" y="592.70" font-size="12" text-anchor="middle">350</text>
<line x1="493.20" y1="577.50" x2="493.20" y2="572.50" stroke="#000" stroke-width="1.8"/>
<text x="493.20" y="592.70" font-size="12" text-anchor="middle">400</text>
<line x1="543.20" y1="577.50" x2="543.20" y2="572.50" stroke="#000" stroke-width="1.8"/>
<text x="543.20" y="592.70" font-size="12" text-anchor="middle">450</text>
<text x="593.20" y="592.70" font-size="12" text-anchor="middle">500</text>
<line x1="118.20" y1="577.50" x2="118.20" y2="575.00" stroke="#000" stroke-width="1.8"/>
<line x1="168.20" y1="577.50" x2="168.20" y2="575.00" stroke="#000" stroke-width="1.8"/>
<line x1="218.20" y1="577.50" x2="218.20" y2="575.00" stroke="#000" stroke-width="1.8"/>
<line x1="268.20" y1="577.50" x2="268.20" y2="575.00" stroke="#000" stroke-width="1.8"/>
<line x1="318.20" y1="577.50" x2="318.20" y2="575.00" stroke="#000" stroke-width="1.8"/>
<line x1="368.20" y1="577.50" x2="368.20" y2="575.00" stroke="#000" stroke-width="1.8"/>
<line x1="418.20" y1="577.50" x2="418.20" y2="575.00" stroke="#000" stroke-width="1.8"/>
<line x1="468.20" y1="577.50" x2="468.20" y2="575.00" stroke="#000" stroke-width="1.8"/>
<line x1="518.20" y1="577.50" x2="518.20" y2="575.00" stroke="#000" stroke-width="1.8"/>
<line x1="568.20" y1="577.50" x2="568.20" y2="575.00" stroke="#000" stroke-width="1.8"/>
<text x="343.20" y="608.00" font-size="14" text-anchor="middle">Cycle number</text>
<text x="102.80" y="565.10" font-size="14.5">NIC</text>
<line x1="449.00" y1="562.70" x2="461.90" y2="562.70" stroke="#000" stroke-width="2.1"/>
<circle cx="455.3" cy="562.7" r="1.9" fill="#fff" stroke="#000" stroke-width="2.3"/>
<text x="465.40" y="564.50" font-size="14">Discharge</text>
<text x="542.60" y="564.50" font-size="14">1 A g<tspan font-size="9" dy="-6">-1</tspan></text>
<text x="3.00" y="455.00" font-size="20">(c)</text>
<path d="M544.5 463.8 C 553 471.5, 563 477, 577.8 479.6" fill="none" stroke="#000" stroke-width="1.8"/>
<polygon points="577.1,476 584.8,479.6 577.1,483.5" fill="#000"/>
<text transform="translate(60.6,511.6) rotate(-90)" font-size="14.15" text-anchor="middle">Specific Capacity (mAh g<tspan font-size="8.5" dy="-6.5">-1</tspan><tspan dy="6.5">)</tspan></text>
<text transform="translate(634.8,518.5) rotate(-90)" font-size="14.5" text-anchor="middle">Coulombic efficiency (%)</text>
</svg>
</body></html>
